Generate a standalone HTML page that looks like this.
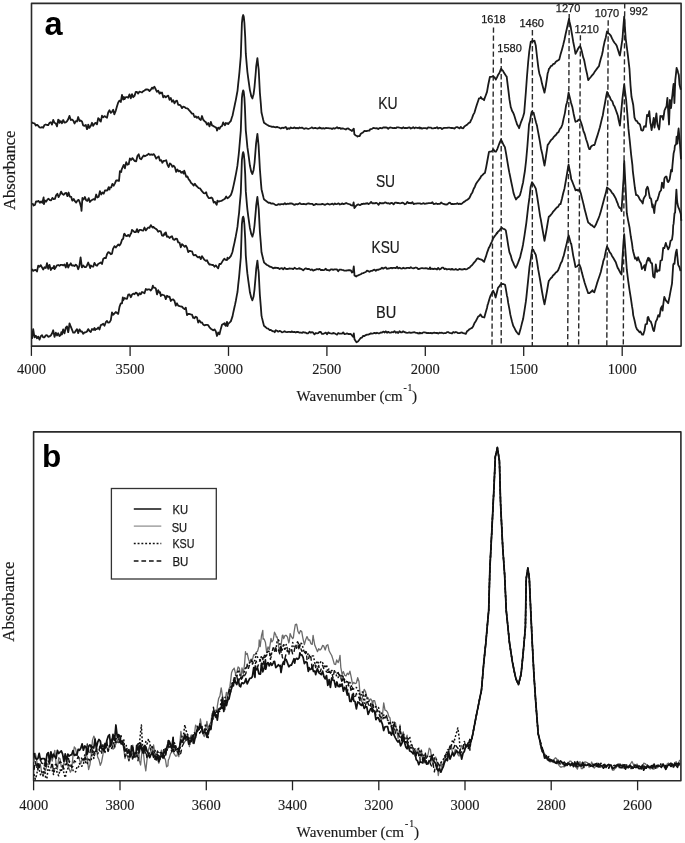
<!DOCTYPE html>
<html><head><meta charset="utf-8"><style>
html,body{margin:0;padding:0;background:#fff;}
svg{display:block;filter:grayscale(1) blur(0.35px);}
text{-webkit-font-smoothing:antialiased;}
</style></head><body>
<svg width="685" height="843" viewBox="0 0 685 843">
<rect width="685" height="843" fill="#fff"/>
<!-- Panel A frame -->
<path d="M31.5 3.35 H681.1 V346.1 H31.5 Z" fill="none" stroke="#2a2a2a" stroke-width="1.6" stroke-linejoin="round"/>
<g stroke="#222" stroke-width="1.3">
<line x1="31.4" y1="346" x2="31.4" y2="355.9"/>
<line x1="130.1" y1="346" x2="130.1" y2="355.9"/>
<line x1="228.5" y1="346" x2="228.5" y2="355.9"/>
<line x1="326.9" y1="346" x2="326.9" y2="355.9"/>
<line x1="425.3" y1="346" x2="425.3" y2="355.9"/>
<line x1="523.7" y1="346" x2="523.7" y2="355.9"/>
<line x1="622.2" y1="346" x2="622.2" y2="355.9"/>
</g>
<g font-family="Liberation Serif" font-size="15.5" fill="#1a1a1a" stroke="#1a1a1a" stroke-width="0.15" text-anchor="middle">
<text x="31.6" y="373.8" textLength="29" lengthAdjust="spacingAndGlyphs">4000</text>
<text x="130" y="373.8" textLength="29" lengthAdjust="spacingAndGlyphs">3500</text>
<text x="228.4" y="373.8" textLength="29" lengthAdjust="spacingAndGlyphs">3000</text>
<text x="326.8" y="373.8" textLength="29" lengthAdjust="spacingAndGlyphs">2500</text>
<text x="425.2" y="373.8" textLength="29" lengthAdjust="spacingAndGlyphs">2000</text>
<text x="523.6" y="373.8" textLength="29" lengthAdjust="spacingAndGlyphs">1500</text>
<text x="622.2" y="373.8" textLength="29" lengthAdjust="spacingAndGlyphs">1000</text>
</g>
<g font-family="Liberation Serif" fill="#1a1a1a" stroke="#1a1a1a" stroke-width="0.15">
<text x="296.6" y="401.3" font-size="15.3" textLength="106" lengthAdjust="spacingAndGlyphs">Wavenumber (cm</text>
<text x="403.4" y="391.3" font-size="9.8">-</text><text x="407.4" y="391.3" font-size="9.8">1</text>
<text x="412.1" y="401.3" font-size="15.3">)</text>
</g>
<text transform="translate(14.8,210) rotate(-90)" font-family="Liberation Serif" font-size="17" fill="#1a1a1a" stroke="#1a1a1a" stroke-width="0.2" textLength="79.5" lengthAdjust="spacingAndGlyphs">Absorbance</text>
<text x="44.6" y="35" font-family="Liberation Sans" font-weight="bold" font-size="32.5" fill="#000">a</text>
<!-- dashed lines -->
<g stroke="#2a2a2a" stroke-width="1.4" stroke-dasharray="5.4 2.6">
<line x1="493.5" y1="27.4" x2="492.0" y2="346"/>
<line x1="501.2" y1="58.1" x2="501.2" y2="346"/>
<line x1="532.4" y1="30.1" x2="532.3" y2="346"/>
<line x1="569.2" y1="13.9" x2="567.7" y2="346"/>
<line x1="580.4" y1="35.2" x2="578.6" y2="346"/>
<line x1="608.2" y1="20.3" x2="606.8" y2="346"/>
<line x1="624.7" y1="3.2" x2="623.3" y2="346"/>
</g>
<g font-family="Liberation Sans" font-size="11" fill="#1a1a1a" stroke="#1a1a1a" stroke-width="0.25">
<text x="481.2" y="22.9">1618</text>
<text x="497.3" y="51.8">1580</text>
<text x="519.5" y="27.1">1460</text>
<text x="555.8" y="12.2">1270</text>
<text x="574.4" y="33.1">1210</text>
<text x="594.7" y="17.1">1070</text>
<text x="629.5" y="14.9">992</text>
</g>
<g font-family="Liberation Sans" font-size="17.3" fill="#1a1a1a" stroke="#1a1a1a" stroke-width="0.2">
<text x="378.3" y="108.6" textLength="19.4" lengthAdjust="spacingAndGlyphs">KU</text>
<text x="375.9" y="187.2" textLength="19.2" lengthAdjust="spacingAndGlyphs">SU</text>
<text x="371.5" y="252.7" textLength="28.2" lengthAdjust="spacingAndGlyphs">KSU</text>
<text x="375.9" y="317.8" textLength="20.3" lengthAdjust="spacingAndGlyphs">BU</text>
</g>
<g fill="none" stroke="#1a1a1a" stroke-width="1.8" stroke-linejoin="round">
<path d="M32.0 122.3 L33.2 123.2 L34.5 123.3 L35.8 125.6 L37.0 124.8 L38.2 125.8 L39.5 127.4 L40.8 127.6 L42.0 127.1 L43.2 127.7 L44.5 125.0 L45.8 124.5 L47.0 125.0 L48.2 125.2 L49.5 122.9 L50.8 122.2 L52.0 124.6 L53.2 119.9 L54.5 122.8 L55.8 123.6 L57.0 126.4 L58.2 119.7 L59.0 120.2 L59.5 122.9 L60.8 121.1 L62.0 123.3 L63.2 120.0 L64.5 122.6 L65.8 122.3 L67.0 121.3 L68.2 119.3 L69.5 115.9 L70.8 120.0 L72.0 119.6 L73.2 120.4 L74.5 123.5 L75.8 121.1 L77.0 121.5 L78.2 117.0 L79.5 121.0 L80.6 120.4 L82.0 121.4 L83.2 125.4 L84.5 125.9 L85.8 124.9 L87.0 129.2 L87.8 127.9 L88.2 124.6 L89.5 127.9 L90.8 125.8 L92.0 122.8 L93.2 125.9 L94.5 123.6 L95.8 122.9 L97.0 124.3 L98.2 118.1 L99.5 119.3 L99.9 120.9 L100.8 121.6 L102.0 115.7 L103.2 117.2 L104.5 116.1 L105.8 117.0 L107.0 117.7 L108.2 112.5 L109.5 110.3 L110.8 112.9 L112.0 111.8 L113.2 109.8 L114.3 114.3 L115.8 110.6 L117.0 106.3 L118.2 102.5 L119.5 100.6 L120.8 102.0 L122.0 94.9 L123.2 99.6 L124.0 97.0 L124.5 99.2 L125.8 97.1 L127.0 97.2 L128.2 97.7 L129.5 94.4 L130.8 98.3 L132.0 94.2 L133.2 97.2 L134.5 95.9 L135.8 91.9 L137.0 92.0 L138.2 93.6 L139.5 91.6 L140.8 92.0 L142.0 92.5 L143.2 91.2 L144.5 90.4 L145.8 89.5 L147.0 89.5 L148.2 89.7 L149.5 91.0 L150.8 89.7 L152.0 87.6 L152.9 88.7 L153.2 87.9 L154.5 86.8 L155.8 89.5 L157.0 91.8 L158.2 90.7 L159.5 93.6 L160.1 92.4 L160.8 93.2 L162.0 92.4 L163.2 97.3 L164.5 95.9 L165.8 97.4 L167.0 96.2 L168.2 95.6 L169.5 99.8 L170.8 98.0 L172.0 101.8 L173.2 100.2 L174.5 103.3 L175.8 101.1 L177.0 100.7 L178.2 104.8 L179.5 104.8 L180.8 105.8 L182.0 108.1 L183.2 106.6 L184.5 107.0 L185.8 108.1 L187.0 108.3 L188.2 109.1 L189.5 110.7 L190.8 112.1 L192.0 113.7 L193.2 113.6 L193.9 115.5 L194.5 117.0 L195.8 116.4 L197.0 117.9 L198.2 116.8 L199.5 119.1 L200.8 120.0 L202.0 116.0 L203.2 119.7 L204.5 121.2 L205.8 122.1 L207.0 124.6 L208.2 123.0 L209.5 126.4 L210.8 121.9 L212.0 125.4 L213.2 125.9 L214.5 126.8 L215.8 127.4 L216.7 128.6 L217.0 130.6 L218.2 127.7 L219.5 128.8 L220.8 126.5 L222.0 126.1 L223.2 122.3 L224.5 124.9 L225.0 125.3 L225.8 123.0 L227.0 123.6 L227.5 123.3 L228.2 124.1 L229.5 122.3 L230.8 121.0 L232.0 117.0 L232.5 115.7 L233.2 112.4 L234.5 106.3 L235.0 103.8 L235.8 100.1 L237.0 93.5 L237.5 90.8 L238.2 83.8 L239.1 75.7 L239.5 71.5 L240.8 56.2 L241.9 23.1 L242.6 16.9 L243.2 15.0 L243.8 16.8 L244.4 22.9 L245.2 37.1 L245.8 53.7 L247.0 67.5 L247.4 72.0 L248.2 78.2 L249.5 87.3 L249.9 90.1 L250.8 93.9 L251.2 96.0 L252.0 97.5 L252.4 98.5 L253.2 95.4 L253.6 94.2 L254.5 87.1 L255.8 72.0 L256.2 66.3 L257.0 60.9 L257.4 58.2 L258.2 65.6 L258.7 69.7 L259.5 85.3 L259.9 92.8 L260.8 103.4 L261.5 112.7 L262.0 114.6 L263.2 119.7 L264.0 122.7 L264.5 123.1 L265.8 124.0 L267.0 124.8 L268.2 125.4 L269.5 126.2 L270.8 126.3 L272.0 126.8 L273.2 126.7 L274.5 127.1 L274.8 127.1 L275.8 127.4 L277.0 126.9 L278.2 127.4 L279.3 127.7 L280.8 128.5 L282.0 127.7 L283.2 128.0 L284.5 127.7 L285.8 126.9 L287.0 129.2 L288.2 128.2 L289.5 128.8 L290.8 127.4 L292.0 128.2 L293.2 128.1 L294.5 127.4 L295.8 128.3 L297.0 127.9 L298.2 128.4 L299.5 127.5 L300.0 127.9 L300.8 127.9 L302.0 127.6 L303.2 128.3 L304.5 128.8 L305.8 128.2 L307.0 128.5 L308.2 128.9 L309.5 128.5 L310.8 128.0 L312.0 127.3 L313.2 128.4 L314.5 128.0 L315.8 128.0 L317.0 128.5 L318.2 128.4 L319.5 127.4 L320.0 128.3 L320.8 128.0 L322.0 128.6 L323.2 128.2 L324.5 128.7 L325.8 128.0 L327.0 128.2 L328.2 128.1 L329.5 128.3 L330.8 128.3 L332.0 129.0 L333.2 128.1 L334.5 128.6 L335.8 128.1 L337.0 127.2 L338.2 128.4 L339.5 127.8 L340.8 128.8 L342.0 128.4 L343.2 128.5 L344.5 129.0 L345.8 129.5 L346.8 128.6 L348.2 128.4 L349.5 129.5 L350.8 130.1 L352.0 131.0 L353.2 129.4 L353.8 128.6 L354.4 134.4 L355.8 135.5 L357.0 136.0 L357.5 136.6 L358.2 136.1 L359.5 136.2 L360.8 133.8 L362.0 133.0 L363.0 132.4 L364.5 130.8 L365.8 131.2 L367.0 131.0 L368.2 130.6 L369.5 130.6 L370.0 129.4 L370.8 129.2 L372.0 128.9 L373.2 128.0 L374.5 128.1 L375.8 128.4 L377.0 128.2 L378.2 129.0 L379.3 128.2 L380.8 128.0 L382.0 128.4 L383.2 127.4 L384.5 127.5 L385.8 127.4 L387.0 127.7 L388.2 128.7 L389.5 127.6 L390.8 127.5 L392.0 127.8 L393.2 128.2 L394.5 128.0 L395.8 128.2 L397.0 127.3 L398.2 127.4 L399.5 127.7 L400.8 127.9 L402.0 128.4 L403.2 127.3 L404.5 128.2 L405.8 127.8 L407.0 128.2 L408.2 127.6 L409.5 127.3 L410.8 128.5 L412.0 128.1 L413.2 127.1 L414.5 128.3 L415.8 127.5 L417.0 127.9 L418.2 128.0 L419.5 127.4 L420.0 128.5 L420.8 127.8 L422.0 128.7 L423.2 128.2 L424.5 128.2 L425.8 128.1 L427.0 128.8 L428.2 127.3 L429.5 127.6 L430.8 127.6 L432.0 128.4 L433.2 128.4 L434.5 128.0 L435.8 128.0 L437.0 127.2 L438.2 128.6 L439.5 127.8 L440.8 127.9 L442.0 129.1 L443.2 128.2 L444.5 127.8 L445.8 127.9 L447.0 127.9 L448.2 127.6 L449.5 127.6 L450.8 128.0 L452.0 128.0 L453.2 128.2 L454.5 128.5 L455.8 127.3 L457.0 127.0 L458.2 127.6 L459.5 128.4 L460.0 127.8 L460.8 126.9 L462.0 128.2 L463.2 128.3 L464.4 126.4 L465.8 125.5 L467.0 124.8 L468.2 123.5 L469.5 122.6 L470.2 122.2 L470.8 120.7 L472.0 118.3 L473.2 114.9 L474.5 112.6 L475.8 108.1 L477.0 104.2 L478.2 100.7 L479.0 98.3 L479.5 98.4 L480.4 98.2 L480.8 97.0 L482.0 98.8 L483.2 99.2 L484.1 100.2 L484.5 98.6 L485.8 95.2 L487.0 91.9 L488.2 85.0 L489.5 78.7 L489.9 77.0 L490.8 76.8 L492.0 76.6 L493.2 76.1 L493.6 76.6 L494.5 77.3 L495.8 79.6 L497.0 77.4 L498.2 74.7 L499.5 72.8 L500.8 69.2 L501.2 68.8 L502.0 69.9 L503.2 71.1 L503.8 72.5 L504.5 73.6 L505.8 75.6 L506.7 76.6 L507.0 79.3 L508.2 88.9 L509.5 99.7 L510.8 107.4 L511.1 107.9 L512.0 110.7 L513.2 112.8 L514.0 114.7 L514.5 116.2 L515.8 120.6 L516.2 121.5 L517.0 124.2 L518.2 126.2 L519.1 128.2 L519.5 126.8 L520.8 122.7 L522.0 119.7 L523.2 116.2 L524.2 112.7 L525.8 92.8 L527.0 76.3 L528.2 61.8 L529.3 51.2 L530.8 41.6 L532.0 41.6 L532.5 40.2 L533.2 41.3 L534.5 40.8 L535.8 45.8 L537.0 56.5 L538.2 66.6 L538.8 70.6 L539.5 74.0 L540.8 77.8 L542.0 83.6 L543.2 88.1 L544.5 92.7 L545.8 85.8 L547.0 78.0 L547.6 73.6 L548.2 71.7 L549.0 68.8 L549.5 68.4 L550.8 66.2 L552.0 65.7 L553.2 63.9 L554.5 63.9 L555.8 61.7 L557.0 60.9 L558.2 60.2 L559.3 59.4 L560.5 54.6 L562.0 49.4 L563.2 44.9 L564.5 39.5 L565.8 33.3 L567.0 28.0 L568.0 23.5 L569.0 18.9 L569.5 21.7 L570.8 27.3 L571.2 29.8 L572.0 34.3 L573.2 41.7 L574.5 48.1 L575.5 53.8 L577.0 51.0 L578.2 48.5 L579.5 46.5 L580.1 46.2 L580.8 47.7 L582.0 52.1 L583.2 57.4 L584.0 59.5 L584.5 61.8 L585.8 68.6 L587.0 73.7 L588.2 80.1 L589.5 78.5 L590.8 77.0 L592.0 75.4 L592.5 75.0 L593.2 74.2 L594.5 72.1 L595.8 70.2 L597.0 68.6 L598.2 67.0 L598.9 66.4 L599.5 63.7 L600.8 58.8 L602.0 54.8 L602.8 51.0 L603.2 48.3 L604.5 42.1 L605.8 37.4 L607.0 31.4 L608.2 33.3 L609.2 33.8 L610.8 35.6 L612.0 38.4 L613.2 40.7 L614.5 42.7 L615.8 44.3 L616.7 45.7 L618.2 50.6 L619.5 54.8 L619.9 55.5 L620.8 49.8 L622.0 41.8 L622.5 38.5 L623.2 28.6 L624.2 16.7 L625.7 38.6 L627.0 48.5 L627.9 55.4 L628.2 58.2 L629.5 69.2 L630.5 85.3 L631.5 96.8 L632.0 99.0 L633.2 104.7 L634.5 117.6 L635.8 120.6 L637.0 121.0 L637.5 122.0 L638.2 123.2 L639.5 123.9 L640.0 124.6 L640.8 127.9 L641.2 130.0 L642.0 130.4 L642.5 130.7 L643.2 130.0 L644.1 126.3 L644.5 126.2 L645.8 126.8 L647.0 115.0 L648.2 116.1 L649.3 111.1 L650.3 122.8 L650.8 124.7 L651.6 130.0 L652.0 127.6 L653.2 120.8 L653.7 117.8 L654.5 127.6 L655.8 117.9 L656.4 113.4 L657.0 120.0 L657.4 124.1 L658.2 126.9 L659.1 129.5 L659.5 126.4 L660.3 116.0 L660.8 116.8 L662.0 115.9 L663.2 119.6 L664.5 110.5 L665.8 107.6 L666.5 106.5 L667.0 101.3 L667.4 97.8 L668.2 111.5 L669.0 124.5 L669.5 111.6 L669.9 100.0 L670.8 105.4 L671.1 108.0 L672.0 98.0 L672.4 94.9 L673.2 86.8 L673.6 83.8 L674.4 103.0 L675.3 79.8 L675.8 75.7 L676.6 67.8 L677.0 69.3 L677.5 70.2 L678.2 72.9 L678.8 74.9 L679.5 84.5 L680.8 89.7"/>
<path d="M32.4 203.1 L33.6 205.5 L34.9 205.0 L36.1 201.3 L37.4 201.5 L38.6 200.9 L39.9 202.8 L41.1 201.4 L42.4 202.8 L43.6 197.4 L44.0 204.1 L44.9 200.5 L46.1 201.7 L47.4 199.6 L48.6 198.8 L49.9 200.1 L51.1 200.4 L52.4 197.9 L53.6 199.1 L54.9 198.9 L56.1 195.4 L57.4 193.7 L58.6 197.1 L59.9 194.6 L61.1 191.7 L62.4 194.0 L63.6 194.8 L64.9 193.4 L66.2 192.9 L67.4 196.1 L68.6 192.5 L69.7 196.5 L71.2 196.8 L72.0 199.8 L72.4 200.6 L73.7 199.0 L74.9 201.2 L76.2 202.6 L77.4 200.6 L78.7 199.9 L79.9 202.7 L81.2 207.6 L81.5 210.9 L82.4 198.0 L83.0 199.7 L83.7 199.2 L84.9 197.0 L86.2 200.4 L87.4 200.9 L88.7 198.1 L89.9 202.0 L91.2 200.5 L92.4 199.8 L93.7 199.1 L94.9 199.8 L96.2 194.5 L97.4 197.5 L98.7 196.7 L99.9 191.1 L101.2 194.5 L102.4 192.5 L103.7 193.7 L104.9 190.5 L106.2 190.5 L107.4 190.4 L108.7 187.1 L109.5 189.5 L109.9 187.6 L111.2 187.4 L112.4 183.9 L113.7 185.7 L114.9 183.3 L116.2 180.3 L117.4 180.5 L118.7 180.3 L119.0 181.0 L119.9 171.2 L121.2 172.0 L121.6 169.6 L122.4 167.8 L123.7 164.9 L124.9 168.3 L126.2 162.1 L127.4 164.7 L128.7 164.2 L129.9 158.5 L131.2 159.9 L132.4 158.1 L133.7 159.8 L134.9 161.0 L136.2 161.3 L137.4 156.0 L138.7 154.3 L139.9 158.4 L141.2 159.2 L142.4 157.3 L143.7 155.4 L144.9 156.3 L146.2 155.5 L147.4 154.9 L148.7 153.8 L149.9 154.9 L150.5 154.6 L151.2 154.4 L152.4 154.9 L153.7 154.1 L154.9 155.8 L156.2 158.6 L157.4 157.4 L158.7 156.4 L159.9 160.6 L161.2 160.2 L162.4 162.8 L163.7 160.8 L164.9 160.8 L166.2 160.2 L167.4 164.6 L168.7 167.0 L169.9 163.4 L171.2 164.4 L172.4 166.8 L173.7 165.8 L174.9 167.3 L176.2 171.9 L177.4 169.5 L178.7 171.4 L179.9 170.8 L181.2 172.8 L182.4 171.8 L183.7 173.6 L184.2 170.7 L184.9 172.4 L186.2 176.8 L187.4 176.4 L188.7 179.3 L189.9 180.7 L191.2 183.1 L192.4 183.9 L193.7 185.6 L194.9 183.7 L196.2 185.8 L197.4 186.8 L198.7 188.1 L199.9 188.3 L201.2 190.1 L202.4 191.7 L203.7 193.1 L204.9 193.4 L206.2 192.3 L207.0 195.4 L207.4 196.1 L208.7 198.0 L209.9 198.2 L211.2 197.4 L212.4 198.2 L213.7 202.6 L214.9 201.8 L216.2 204.0 L216.7 204.8 L217.4 200.6 L218.7 201.7 L219.9 201.2 L221.2 200.8 L222.4 200.3 L223.7 199.5 L224.9 198.7 L226.2 196.5 L227.4 198.3 L228.7 197.4 L229.9 196.1 L230.8 195.1 L231.2 194.2 L232.4 190.6 L233.7 184.9 L234.9 179.2 L236.2 172.6 L237.4 165.9 L238.7 154.7 L239.1 150.5 L239.9 141.2 L240.8 130.6 L241.9 98.1 L242.4 93.6 L243.2 90.3 L243.7 91.5 L244.4 97.9 L244.9 107.0 L245.8 130.6 L246.2 134.4 L247.4 147.2 L248.7 156.3 L249.9 165.5 L251.2 171.5 L252.4 174.0 L253.6 169.9 L254.6 162.5 L254.9 158.5 L256.1 143.4 L257.4 133.8 L258.6 145.6 L259.9 169.2 L261.1 184.6 L261.5 189.2 L262.4 193.0 L263.6 197.9 L264.0 199.3 L264.9 200.1 L266.1 200.9 L267.4 202.0 L268.2 202.5 L268.6 202.9 L269.9 202.6 L271.1 203.7 L272.4 203.5 L273.6 203.6 L274.8 204.5 L276.1 205.1 L277.4 204.8 L278.6 204.1 L279.9 204.6 L281.1 204.1 L282.4 204.2 L283.6 204.3 L284.9 203.2 L286.1 204.3 L287.4 203.7 L288.6 203.8 L289.9 203.5 L291.1 203.4 L292.4 203.7 L293.6 204.5 L294.9 204.8 L296.1 204.0 L297.4 204.4 L298.6 203.9 L299.9 203.1 L301.1 204.1 L302.4 204.2 L303.6 203.8 L304.9 204.1 L306.1 204.4 L307.4 203.6 L308.6 203.3 L309.9 203.9 L311.1 203.9 L312.4 203.8 L313.6 205.1 L314.9 204.7 L316.1 203.8 L317.4 204.3 L318.6 204.4 L319.9 204.3 L321.1 204.4 L322.4 203.8 L323.6 204.3 L324.9 204.9 L326.1 204.3 L327.4 203.7 L328.6 204.2 L329.9 204.5 L331.1 204.1 L332.4 203.7 L333.6 204.6 L334.9 203.4 L336.1 204.2 L337.4 203.9 L338.6 203.4 L339.9 204.5 L341.1 204.1 L342.4 203.4 L343.6 204.2 L344.9 203.7 L346.1 203.0 L347.4 203.6 L348.6 204.0 L349.2 204.2 L349.9 204.3 L351.1 205.2 L352.4 205.5 L353.0 205.4 L353.6 202.4 L354.4 208.1 L354.9 207.4 L356.0 205.9 L357.4 204.7 L358.6 204.5 L359.9 205.2 L361.1 204.4 L362.0 203.9 L362.4 204.1 L363.6 203.6 L364.9 203.8 L366.1 203.3 L367.0 203.6 L367.4 203.1 L368.6 204.1 L369.9 203.2 L371.1 202.0 L372.4 203.3 L373.6 203.2 L374.9 203.4 L376.1 202.8 L377.4 203.5 L378.6 204.8 L379.9 202.7 L381.1 203.4 L382.4 203.1 L383.6 203.3 L384.9 202.4 L386.1 202.7 L387.4 203.4 L388.6 203.2 L389.9 203.9 L391.1 202.8 L392.4 203.2 L393.6 204.4 L394.9 202.7 L396.1 202.7 L397.4 203.0 L398.6 203.0 L399.9 203.4 L401.1 203.1 L402.4 202.7 L403.6 203.1 L404.9 204.3 L406.1 203.7 L407.4 201.9 L408.6 203.1 L409.9 202.8 L411.1 203.4 L412.4 202.2 L413.6 204.1 L414.9 203.6 L416.1 203.6 L417.4 203.3 L418.6 203.3 L419.9 203.4 L421.1 203.9 L422.4 203.7 L423.6 203.2 L424.9 203.9 L426.1 203.5 L427.4 203.4 L428.6 203.1 L429.9 203.2 L431.1 203.2 L432.4 202.2 L433.6 204.0 L434.9 203.8 L436.1 203.4 L437.4 204.0 L438.6 203.8 L439.9 203.8 L441.1 202.5 L442.4 203.5 L443.6 203.9 L444.9 204.4 L446.1 204.5 L447.4 204.3 L448.6 203.2 L449.9 202.7 L451.1 204.0 L452.4 203.8 L453.6 204.2 L454.9 203.8 L456.1 203.9 L457.4 203.2 L458.6 204.1 L459.9 203.7 L461.1 204.1 L462.4 203.2 L463.6 202.1 L464.9 201.4 L466.1 200.4 L467.4 199.7 L468.6 198.8 L469.6 197.7 L471.1 194.3 L472.4 192.4 L473.6 189.0 L474.9 186.7 L475.7 184.7 L476.1 183.7 L477.4 181.8 L478.6 180.2 L479.9 178.4 L480.5 177.6 L481.1 176.2 L482.4 175.1 L483.6 173.8 L484.9 173.0 L485.3 171.2 L486.1 167.6 L487.4 160.5 L488.6 154.0 L489.0 151.8 L489.9 151.7 L491.1 151.6 L492.4 150.6 L493.5 149.5 L494.9 151.6 L496.0 151.7 L497.4 148.8 L498.6 145.5 L499.9 142.2 L501.0 139.8 L502.4 142.3 L503.6 145.0 L504.9 147.1 L506.1 153.7 L507.4 161.6 L508.6 168.6 L509.3 172.4 L509.9 175.2 L511.1 181.2 L512.4 187.4 L513.5 192.9 L514.9 197.0 L516.0 199.5 L517.4 197.6 L518.6 196.9 L519.9 195.2 L521.1 190.9 L522.4 185.3 L523.1 182.4 L523.6 178.9 L524.9 171.0 L526.1 160.5 L527.4 146.0 L528.6 130.3 L529.0 124.5 L529.9 121.3 L531.1 114.4 L531.7 111.8 L532.4 112.3 L533.6 112.6 L534.9 118.1 L536.1 122.8 L537.0 125.7 L537.4 128.1 L538.6 134.5 L539.9 141.7 L541.1 149.0 L542.4 154.4 L543.6 161.1 L544.5 165.6 L544.9 163.3 L546.1 155.5 L547.4 146.9 L547.7 144.9 L548.6 143.9 L549.9 141.8 L551.1 140.0 L552.0 139.2 L552.4 139.0 L553.6 137.2 L554.9 135.8 L556.1 134.8 L557.4 132.7 L558.4 132.4 L559.9 129.0 L561.1 127.6 L562.4 124.5 L563.6 118.6 L564.9 113.1 L566.1 105.3 L566.9 102.7 L567.4 100.4 L568.6 92.6 L569.9 97.9 L571.1 103.0 L572.4 107.3 L573.6 113.7 L574.9 119.5 L575.5 121.8 L576.1 121.4 L577.4 121.1 L578.6 119.7 L579.9 119.7 L581.1 122.5 L582.4 126.7 L583.6 131.6 L584.0 132.1 L584.9 134.6 L586.1 139.3 L587.4 143.0 L588.6 147.5 L589.3 149.1 L589.9 149.1 L591.1 146.5 L592.4 145.5 L593.6 145.0 L594.3 145.1 L594.9 143.8 L596.1 139.6 L597.4 135.6 L598.5 132.0 L599.9 127.2 L601.1 122.1 L602.4 116.8 L602.8 115.4 L603.6 110.3 L604.9 103.5 L606.1 96.7 L607.1 91.9 L608.6 95.0 L609.9 97.1 L610.3 98.5 L611.1 100.2 L612.4 101.4 L613.6 105.2 L614.6 106.6 L616.1 110.8 L617.4 114.4 L617.8 115.3 L618.6 119.9 L619.9 125.6 L621.1 113.0 L622.4 98.8 L623.6 89.1 L624.2 84.5 L624.9 90.3 L626.1 99.6 L627.4 114.9 L628.4 128.4 L629.9 142.1 L630.6 149.1 L631.1 154.3 L632.4 165.1 L632.8 170.8 L633.6 177.3 L634.9 188.0 L636.1 195.0 L637.4 195.2 L638.1 196.1 L638.6 196.8 L639.9 199.6 L641.1 200.9 L642.4 202.6 L642.7 203.5 L643.6 198.7 L644.9 196.4 L645.8 195.1 L646.1 189.6 L647.4 186.8 L648.1 188.1 L648.6 191.3 L649.9 198.0 L650.4 197.9 L651.1 199.0 L652.4 207.4 L652.7 204.5 L653.6 208.7 L654.3 213.0 L654.9 206.2 L656.1 200.9 L656.6 200.9 L657.4 200.1 L658.6 196.1 L659.7 192.0 L661.1 190.2 L662.0 182.7 L662.4 183.7 L663.6 187.9 L664.3 179.1 L664.9 177.4 L666.1 176.5 L666.6 176.8 L667.4 181.1 L668.2 182.1 L668.6 181.7 L669.7 179.2 L671.1 170.0 L672.0 171.4 L672.4 166.0 L673.6 153.4 L674.5 149.7 L674.9 145.7 L676.1 144.1 L676.6 136.6 L677.4 143.7 L678.1 132.8 L678.6 128.5 L679.8 141.8 L681.0 159.2"/>
<path d="M32.0 269.0 L33.2 270.9 L34.5 270.1 L35.8 269.9 L37.0 271.6 L38.2 265.7 L39.5 266.7 L40.8 265.2 L42.0 267.4 L43.2 269.5 L44.5 267.3 L45.8 268.1 L47.0 263.1 L48.2 268.8 L49.5 264.8 L50.8 270.0 L52.0 268.0 L53.2 268.0 L54.0 265.9 L54.5 269.1 L55.8 267.3 L57.0 265.3 L58.2 265.0 L59.5 265.8 L60.8 264.8 L62.0 264.8 L63.2 265.4 L64.5 264.5 L65.8 267.5 L67.0 262.8 L68.2 267.6 L69.5 264.7 L70.0 264.9 L70.8 263.3 L72.0 265.6 L73.2 265.3 L74.5 266.1 L75.8 264.6 L77.0 265.8 L78.2 269.2 L79.3 266.3 L80.6 257.4 L81.9 267.4 L83.2 265.4 L84.5 267.0 L85.8 267.2 L87.0 265.4 L88.2 262.5 L89.5 265.8 L90.2 268.1 L90.8 265.5 L92.0 266.4 L93.2 266.7 L94.5 262.9 L95.8 265.1 L97.0 265.7 L98.2 263.9 L99.5 263.3 L100.8 262.4 L102.0 264.0 L103.2 259.0 L104.5 257.8 L105.8 258.2 L107.0 254.3 L108.2 252.1 L109.5 252.6 L110.8 254.3 L112.0 253.6 L113.0 248.9 L114.5 246.1 L115.8 247.5 L117.0 246.0 L118.2 244.5 L119.5 245.5 L120.8 243.5 L122.0 239.7 L123.2 238.7 L124.0 234.2 L124.5 233.8 L125.8 235.9 L127.0 236.0 L128.2 234.9 L129.5 236.5 L130.8 233.6 L131.2 233.4 L132.0 229.8 L133.2 230.9 L134.5 232.2 L135.8 232.1 L137.0 229.1 L138.2 232.3 L139.5 229.9 L140.8 229.9 L142.0 230.3 L143.2 230.6 L144.5 227.5 L145.8 230.4 L147.0 228.9 L148.2 227.5 L149.5 227.9 L150.8 225.1 L152.0 226.9 L152.9 227.7 L153.2 226.8 L154.5 227.9 L155.8 228.8 L157.0 229.8 L158.2 231.7 L159.5 231.0 L160.8 231.4 L162.0 235.5 L163.2 235.8 L164.5 233.3 L165.0 234.7 L165.8 232.3 L167.0 236.8 L168.2 236.5 L169.5 238.0 L170.8 236.9 L172.0 236.2 L173.2 239.4 L174.5 239.8 L175.8 238.7 L177.0 238.9 L178.2 242.4 L179.5 242.6 L180.8 247.3 L182.0 244.1 L183.2 245.2 L184.5 246.8 L185.8 245.7 L187.0 247.8 L188.2 252.1 L189.5 250.8 L190.8 251.2 L192.0 251.3 L193.2 254.7 L193.9 255.4 L194.5 255.2 L195.8 255.0 L197.0 256.6 L198.2 257.4 L199.5 256.7 L200.8 259.1 L202.0 256.2 L203.2 258.0 L204.5 259.9 L205.8 260.9 L207.0 260.2 L208.2 262.9 L209.5 264.6 L210.8 264.5 L212.0 265.0 L213.2 265.0 L214.5 266.7 L215.8 265.4 L217.0 267.0 L218.2 268.3 L219.5 263.8 L220.8 264.1 L222.0 262.1 L223.2 260.1 L224.5 258.6 L225.0 259.5 L225.8 259.9 L227.0 260.0 L227.5 257.7 L228.2 258.8 L229.5 257.7 L230.8 256.2 L232.0 253.1 L232.5 251.7 L233.2 248.3 L234.5 242.6 L235.0 240.0 L235.8 236.2 L237.0 229.6 L237.5 226.7 L238.2 219.9 L239.1 212.6 L239.5 207.4 L240.8 192.7 L241.9 159.8 L242.6 154.3 L243.2 152.1 L243.8 154.2 L244.4 160.0 L245.2 174.4 L245.8 191.4 L247.0 205.4 L247.4 209.5 L248.2 215.9 L249.5 225.2 L249.9 228.0 L250.8 231.9 L251.2 233.9 L252.0 235.5 L252.4 236.7 L253.2 233.7 L253.6 232.5 L254.5 225.5 L255.8 210.6 L256.2 205.4 L257.0 199.5 L257.4 197.0 L258.2 204.6 L258.7 208.8 L259.5 224.4 L259.9 231.9 L260.8 242.7 L261.5 252.2 L262.0 254.2 L263.2 259.3 L264.0 262.3 L264.5 262.9 L265.8 264.0 L267.0 265.0 L268.2 265.5 L269.5 266.5 L270.8 266.8 L272.0 267.3 L273.2 268.4 L274.5 267.6 L274.8 268.1 L275.8 267.7 L277.0 268.0 L278.2 267.9 L279.5 269.0 L280.8 268.4 L282.0 268.1 L283.2 269.3 L284.5 267.8 L285.8 268.9 L287.0 269.0 L288.2 268.8 L289.5 268.5 L290.8 268.6 L292.0 268.6 L293.2 269.1 L294.5 267.8 L295.8 268.6 L297.0 269.0 L298.2 268.7 L299.5 268.2 L300.0 268.9 L300.8 268.7 L302.0 269.4 L303.2 270.3 L304.5 269.1 L305.8 268.3 L307.0 269.1 L308.2 268.8 L309.5 269.2 L310.8 270.0 L312.0 269.4 L313.2 270.6 L314.5 270.0 L315.8 269.7 L317.0 269.0 L318.2 269.5 L319.5 268.9 L320.8 270.0 L322.0 269.9 L323.2 270.2 L324.5 269.8 L325.8 268.8 L327.0 270.0 L328.2 270.2 L329.5 270.5 L330.8 269.4 L332.0 269.4 L333.2 269.9 L334.5 269.4 L335.8 269.3 L337.0 269.5 L338.2 271.2 L339.5 269.7 L340.8 269.6 L342.0 269.9 L343.2 270.1 L344.5 270.7 L345.8 270.6 L347.0 270.5 L348.2 270.2 L349.2 270.3 L349.5 270.1 L350.8 270.3 L352.0 272.5 L353.0 271.8 L353.8 266.5 L354.5 275.4 L355.8 276.3 L356.5 276.5 L357.0 275.6 L358.2 275.4 L359.5 274.8 L360.8 274.2 L362.0 273.3 L363.2 273.1 L364.5 272.5 L365.8 272.0 L367.0 270.7 L368.2 271.1 L369.5 271.8 L370.8 270.9 L372.0 270.9 L373.2 270.2 L374.5 269.7 L375.8 270.7 L377.0 269.7 L378.2 269.9 L379.3 269.3 L380.8 268.8 L382.0 267.8 L383.2 268.7 L384.5 267.8 L385.8 267.4 L387.0 268.8 L388.2 268.5 L389.5 268.3 L390.8 267.9 L391.3 267.8 L392.0 268.3 L393.2 267.9 L394.5 267.9 L395.8 268.2 L397.0 266.8 L398.2 268.4 L399.5 267.7 L400.8 268.4 L402.0 268.6 L403.2 267.7 L404.5 268.4 L405.8 268.4 L407.0 267.8 L408.2 267.9 L409.5 268.2 L410.8 267.2 L412.0 268.0 L413.2 268.3 L414.5 268.0 L415.8 267.5 L417.0 267.9 L418.2 269.0 L419.5 268.9 L420.8 268.3 L422.0 268.0 L423.2 268.4 L424.5 268.4 L425.8 268.1 L427.0 268.3 L428.2 268.8 L429.5 268.9 L430.0 267.4 L430.8 269.0 L432.0 268.6 L433.2 269.1 L434.5 268.6 L435.8 268.9 L437.0 269.5 L438.2 267.9 L439.5 269.5 L440.8 268.9 L442.0 267.7 L443.2 267.7 L444.5 269.1 L445.8 268.6 L447.0 269.5 L448.2 269.2 L449.5 269.1 L450.8 269.6 L452.0 268.9 L453.2 269.6 L454.5 269.7 L455.8 269.0 L457.0 269.8 L458.2 269.8 L459.5 268.9 L460.8 269.4 L462.0 269.5 L463.2 269.4 L464.5 268.9 L465.8 269.4 L467.0 269.1 L468.2 268.2 L469.5 267.7 L470.8 266.1 L472.0 265.2 L473.2 263.7 L474.5 262.2 L475.8 260.6 L477.0 258.7 L478.0 258.2 L479.5 259.2 L480.5 259.4 L482.0 259.9 L483.2 261.1 L484.1 261.9 L484.5 260.5 L485.8 256.9 L487.0 252.9 L488.2 249.6 L488.9 247.6 L489.5 246.9 L490.8 243.8 L492.0 241.3 L493.2 238.2 L493.7 237.6 L494.5 236.4 L495.8 234.8 L497.0 232.7 L497.3 233.2 L498.2 231.4 L499.5 230.5 L500.8 228.6 L502.0 227.8 L503.2 228.9 L504.5 229.1 L505.8 230.3 L507.0 237.6 L508.2 245.3 L509.4 252.2 L510.8 255.6 L512.0 260.2 L513.2 262.6 L514.2 265.1 L515.7 267.8 L517.0 265.3 L518.2 262.4 L519.5 258.9 L520.2 257.1 L520.8 254.2 L522.0 249.6 L523.0 244.7 L524.5 235.4 L525.8 226.5 L526.3 223.1 L527.0 217.2 L528.2 206.6 L529.5 197.2 L530.6 187.0 L532.0 182.2 L533.2 183.9 L534.5 186.1 L535.8 188.7 L537.0 195.5 L538.2 203.3 L539.5 212.1 L540.2 216.6 L540.8 219.4 L542.0 226.5 L543.2 233.3 L544.5 240.8 L545.8 233.9 L547.0 227.0 L548.2 219.8 L548.8 216.6 L549.5 216.3 L550.8 214.8 L552.0 213.5 L553.2 211.6 L554.1 210.6 L554.5 210.3 L555.8 208.6 L557.0 207.4 L558.2 206.7 L559.5 204.1 L560.5 204.2 L562.0 198.5 L563.2 193.3 L564.5 188.4 L565.8 181.0 L567.0 173.9 L568.2 166.4 L568.6 164.6 L569.5 169.4 L570.8 176.1 L571.2 179.2 L572.0 180.9 L573.2 184.0 L574.5 187.3 L575.5 190.3 L577.0 189.7 L578.2 190.7 L579.5 189.5 L580.8 193.3 L582.0 198.1 L583.2 202.9 L584.0 206.2 L584.5 208.8 L585.8 213.6 L587.0 218.2 L588.2 222.6 L589.5 223.4 L590.8 224.9 L592.0 225.2 L592.5 226.0 L593.2 226.3 L594.3 227.4 L595.8 224.8 L597.0 221.9 L598.2 219.2 L599.5 215.7 L600.8 211.4 L602.0 207.1 L602.8 204.1 L603.2 202.6 L604.5 197.5 L605.8 193.1 L607.0 187.5 L608.2 188.4 L609.5 189.4 L610.3 190.2 L610.8 190.8 L612.0 192.9 L613.2 194.0 L614.5 196.2 L615.8 198.6 L617.0 202.0 L617.8 203.6 L618.2 205.3 L619.5 207.9 L620.8 208.4 L621.5 211.1 L622.0 203.3 L623.2 183.6 L623.6 178.8 L624.2 160.9 L625.8 191.5 L626.8 213.2 L628.2 220.8 L629.5 227.2 L630.8 236.5 L632.0 243.3 L632.7 248.9 L633.2 251.5 L634.5 256.5 L635.0 258.7 L635.8 257.6 L637.0 260.5 L638.1 257.2 L639.5 261.2 L640.8 263.2 L641.9 269.0 L643.2 267.5 L644.5 265.1 L645.0 270.3 L645.8 265.7 L647.0 260.8 L648.2 257.8 L648.9 260.6 L649.5 258.4 L650.8 262.8 L652.0 263.4 L653.2 276.5 L654.5 277.6 L655.8 264.5 L657.0 271.9 L658.1 270.3 L659.5 270.5 L660.5 260.8 L662.0 259.9 L663.2 247.9 L664.3 248.2 L665.8 242.9 L666.6 245.7 L667.0 246.2 L668.2 249.4 L669.5 246.6 L670.5 241.0 L672.0 239.6 L672.8 233.8 L673.2 225.5 L673.6 223.9 L674.5 213.3 L675.1 212.6 L675.8 199.6 L676.4 189.6 L677.0 199.5 L677.4 203.3 L678.2 206.9 L679.5 209.9 L680.8 214.1 L681.3 220.7"/>
<path d="M32.0 338.9 L33.2 329.2 L34.5 337.4 L35.8 335.7 L37.0 338.3 L38.2 336.6 L39.5 339.6 L40.8 336.1 L42.0 335.1 L43.2 337.4 L44.5 337.3 L45.8 335.3 L47.0 335.2 L48.2 336.8 L49.5 336.4 L50.8 335.5 L52.0 333.5 L53.2 330.3 L54.5 336.9 L55.8 332.7 L57.0 335.5 L58.2 333.3 L59.5 336.0 L60.8 334.8 L61.3 332.2 L62.0 334.4 L63.2 329.3 L64.5 333.4 L65.8 327.7 L67.0 326.4 L68.2 332.2 L68.6 330.4 L69.5 323.3 L70.8 326.7 L72.0 329.6 L73.2 332.7 L74.5 332.7 L75.8 330.7 L77.0 329.1 L78.2 333.2 L79.5 329.3 L80.8 331.5 L81.8 331.3 L83.2 333.8 L84.5 332.3 L85.8 332.3 L87.0 331.5 L88.2 329.1 L89.5 331.1 L90.8 332.0 L92.0 329.0 L93.2 329.9 L94.5 327.9 L95.0 330.1 L95.8 329.1 L97.0 329.0 L98.2 327.5 L99.5 329.6 L100.8 325.1 L102.0 324.7 L103.2 323.8 L104.5 325.7 L105.8 322.2 L107.0 321.0 L108.2 322.7 L109.5 322.4 L110.8 320.1 L112.0 312.5 L113.2 314.8 L114.5 313.4 L115.8 312.0 L116.7 312.8 L118.2 313.9 L119.5 306.9 L120.8 303.3 L122.0 303.4 L122.8 297.3 L123.2 300.3 L124.5 298.0 L125.8 298.6 L127.0 298.8 L128.2 294.7 L129.5 294.4 L130.8 297.2 L131.2 296.6 L132.0 294.6 L133.2 293.6 L134.5 294.3 L135.8 292.6 L137.0 293.3 L138.2 295.5 L139.5 293.2 L140.8 294.2 L142.0 292.0 L143.2 292.4 L144.5 293.2 L145.8 289.0 L147.0 289.8 L148.2 289.4 L149.5 289.4 L150.8 290.5 L152.0 288.8 L152.9 285.6 L153.2 287.4 L154.5 287.6 L155.8 288.5 L157.0 294.4 L158.2 290.2 L159.5 292.8 L160.1 292.1 L160.8 296.0 L162.0 294.6 L163.2 295.0 L164.5 295.5 L165.8 299.1 L167.0 295.8 L168.2 296.8 L169.5 296.6 L170.8 301.0 L172.0 299.6 L173.2 299.4 L174.5 300.9 L175.8 305.7 L177.0 303.3 L178.2 305.6 L179.5 306.1 L180.8 306.5 L182.0 306.6 L183.2 308.1 L184.5 309.1 L185.8 307.7 L187.0 315.0 L188.2 313.8 L189.5 314.0 L190.8 314.4 L192.0 314.6 L193.2 317.9 L193.9 317.4 L194.5 318.2 L195.8 316.6 L197.0 317.5 L198.2 322.6 L199.5 320.4 L200.8 322.6 L202.0 322.4 L203.2 324.6 L204.5 325.4 L205.8 324.9 L207.0 324.9 L208.2 325.2 L209.5 327.3 L210.8 328.7 L212.0 329.5 L213.2 330.3 L214.5 329.4 L215.8 331.2 L217.0 336.0 L217.9 333.9 L218.2 332.5 L219.5 334.2 L220.8 328.9 L222.0 324.8 L223.2 324.1 L224.5 323.1 L225.0 324.9 L225.8 325.8 L227.0 321.8 L227.5 326.1 L228.2 323.7 L229.5 322.6 L230.8 321.4 L232.0 317.9 L232.5 316.4 L233.2 312.9 L234.5 307.0 L235.0 304.9 L235.8 301.0 L237.0 294.4 L237.5 292.0 L238.2 284.8 L239.1 276.9 L239.5 272.4 L240.8 257.5 L241.9 224.1 L242.6 218.1 L243.2 216.6 L243.8 218.5 L244.4 224.5 L245.2 238.7 L245.8 255.6 L247.0 269.8 L247.4 273.7 L248.2 279.8 L249.5 289.1 L249.9 292.3 L250.8 295.7 L251.2 297.5 L252.0 299.3 L252.4 300.3 L253.2 297.8 L253.6 296.5 L254.5 289.6 L255.8 274.4 L256.2 269.0 L257.0 263.5 L257.4 260.6 L258.2 268.4 L258.7 272.4 L259.5 288.2 L259.9 295.4 L260.8 306.4 L261.5 315.6 L262.0 317.9 L263.2 322.8 L264.0 325.9 L264.5 326.3 L265.8 327.3 L267.0 328.4 L268.2 328.6 L269.5 330.0 L270.8 329.8 L272.0 330.9 L273.2 331.4 L274.5 331.5 L274.8 332.2 L275.8 330.2 L277.0 330.8 L278.2 331.7 L279.5 330.9 L280.8 331.4 L282.0 332.3 L283.2 332.0 L284.5 331.2 L285.8 331.9 L287.0 332.1 L288.2 331.9 L289.5 331.9 L290.8 332.1 L292.0 331.4 L293.2 332.2 L294.5 331.8 L295.8 332.5 L297.0 331.8 L298.2 332.0 L299.5 332.7 L300.0 332.7 L300.8 332.5 L302.0 332.9 L303.2 332.1 L304.5 332.5 L305.8 332.7 L307.0 333.4 L308.2 333.3 L309.5 331.7 L310.8 332.7 L312.0 332.2 L313.2 332.7 L314.5 334.4 L315.8 333.0 L317.0 333.4 L318.2 333.2 L319.5 331.8 L320.8 332.0 L322.0 333.9 L323.2 333.9 L324.5 333.3 L325.8 332.6 L327.0 334.3 L328.2 332.4 L329.5 333.1 L330.8 333.4 L332.0 333.6 L333.2 333.0 L334.5 333.3 L335.8 334.0 L337.0 334.6 L338.2 333.0 L339.5 333.7 L340.8 333.7 L342.0 333.7 L343.2 332.4 L344.5 334.1 L345.8 333.8 L347.0 333.4 L348.2 334.0 L349.2 333.9 L349.5 334.2 L350.8 334.0 L352.0 335.5 L353.0 336.7 L353.8 333.4 L354.5 339.2 L355.8 341.2 L356.5 342.3 L357.0 342.0 L358.2 341.2 L359.5 339.5 L360.8 337.9 L362.0 337.6 L363.2 335.8 L364.5 336.0 L365.8 335.1 L367.0 334.6 L368.2 334.6 L369.5 334.2 L370.8 333.3 L372.0 333.6 L373.2 333.3 L374.5 332.9 L375.8 333.4 L377.0 332.7 L378.2 333.3 L379.5 333.3 L380.8 332.5 L382.0 332.7 L383.2 331.6 L384.1 331.9 L384.5 332.5 L385.8 331.3 L387.0 332.8 L388.2 331.8 L389.5 332.7 L390.8 332.7 L392.0 332.0 L393.2 332.3 L394.5 331.1 L395.8 332.7 L397.0 331.9 L398.2 333.0 L399.5 331.3 L400.8 332.3 L402.0 332.3 L403.2 331.3 L404.5 332.2 L405.8 332.5 L407.0 332.9 L408.2 332.7 L409.5 332.4 L410.8 332.8 L412.0 332.6 L413.2 332.4 L414.5 332.2 L415.8 332.8 L417.0 332.8 L418.2 333.6 L419.5 332.6 L420.0 333.5 L420.8 333.0 L422.0 333.3 L423.2 332.4 L424.5 332.4 L425.8 332.7 L427.0 333.2 L428.2 332.9 L429.5 333.1 L430.8 332.9 L432.0 333.3 L433.2 332.9 L434.5 332.6 L435.8 333.0 L437.0 332.8 L438.2 333.6 L439.5 332.7 L440.8 332.8 L442.0 332.7 L443.2 333.3 L444.5 333.2 L445.8 333.1 L447.0 332.2 L448.2 332.1 L449.5 332.9 L450.8 333.1 L452.0 333.5 L453.2 332.0 L454.5 332.7 L455.8 332.0 L457.0 332.4 L458.2 333.2 L459.5 333.2 L460.8 332.6 L462.0 332.5 L463.2 333.1 L464.5 333.4 L465.8 333.9 L467.0 331.3 L468.2 330.5 L469.5 329.2 L470.8 328.5 L472.0 327.9 L473.2 326.2 L474.5 323.1 L475.8 321.2 L477.0 318.8 L478.0 316.8 L479.5 315.7 L480.5 314.4 L482.0 316.8 L483.2 317.2 L484.3 317.5 L485.8 312.0 L487.0 308.0 L487.6 304.8 L488.2 303.3 L489.5 298.8 L490.4 296.0 L490.8 295.3 L492.0 292.9 L493.2 290.8 L494.5 293.7 L495.6 297.5 L497.0 292.0 L498.0 287.9 L499.5 286.1 L500.8 284.2 L501.8 284.1 L503.2 284.0 L504.5 284.5 L505.1 285.0 L505.8 288.7 L507.0 295.9 L507.5 297.8 L508.2 302.9 L509.5 309.7 L510.3 314.4 L510.8 316.6 L512.0 321.5 L513.2 325.7 L514.5 328.1 L515.8 330.9 L517.0 332.5 L518.2 333.9 L518.9 334.4 L519.5 332.6 L520.8 327.9 L522.0 323.1 L523.1 319.1 L524.5 310.3 L525.8 301.9 L526.3 297.9 L527.0 291.1 L528.2 279.7 L529.5 266.9 L530.8 258.8 L532.0 250.1 L533.2 249.6 L534.5 252.5 L535.8 254.9 L537.0 261.4 L538.2 269.4 L539.5 276.5 L540.2 280.5 L540.8 284.0 L542.0 291.5 L543.2 298.2 L544.5 304.3 L545.8 297.6 L547.0 291.0 L548.2 283.8 L548.8 280.9 L549.5 280.0 L550.8 278.2 L552.0 277.2 L553.0 275.5 L554.5 274.3 L555.8 272.5 L557.0 271.7 L558.2 270.1 L559.5 266.9 L560.8 263.3 L562.0 261.3 L563.2 257.1 L563.7 255.9 L564.5 252.5 L565.8 247.1 L566.9 242.6 L568.2 236.7 L568.6 235.3 L569.5 238.6 L570.8 243.6 L571.2 243.7 L572.0 248.2 L573.2 255.6 L574.5 261.8 L575.5 267.0 L577.0 266.5 L578.2 265.1 L579.5 264.7 L580.8 268.1 L582.0 273.1 L583.2 277.6 L584.0 280.3 L584.5 282.3 L585.8 286.2 L587.0 289.8 L588.2 293.2 L589.5 293.1 L590.8 292.0 L592.0 291.0 L592.5 290.3 L593.2 291.6 L594.3 292.2 L595.8 287.4 L597.0 283.4 L598.2 279.8 L599.5 276.0 L600.8 272.0 L602.0 266.7 L602.8 263.8 L603.2 261.4 L604.5 257.7 L605.8 251.1 L607.0 246.5 L608.2 248.7 L609.5 251.9 L610.3 253.0 L610.8 253.4 L612.0 255.9 L613.2 257.8 L614.5 260.0 L615.8 262.2 L617.0 265.9 L617.8 268.1 L618.2 268.5 L619.5 271.1 L620.8 273.6 L621.5 274.6 L622.0 266.0 L623.2 246.3 L623.6 240.8 L624.2 234.2 L625.8 255.9 L626.8 269.7 L628.2 280.8 L629.5 289.8 L630.8 297.8 L632.0 306.2 L632.7 310.1 L633.2 315.1 L634.5 320.2 L635.8 326.3 L637.0 329.3 L638.2 330.5 L639.5 332.3 L640.2 331.5 L640.8 332.2 L642.0 334.5 L643.2 334.7 L644.5 330.5 L645.5 324.3 L647.0 323.9 L647.6 317.6 L648.2 316.9 L649.5 320.7 L650.8 321.6 L651.9 324.8 L653.2 330.0 L654.0 331.1 L654.5 328.7 L655.8 321.6 L657.0 319.5 L658.2 315.2 L659.5 316.6 L660.8 308.5 L662.0 306.3 L662.6 310.7 L663.2 304.9 L664.3 296.9 L665.8 300.3 L667.0 301.7 L667.9 302.9 L668.2 303.2 L669.5 296.9 L670.5 291.4 L672.0 283.6 L673.2 265.0 L673.6 263.7 L674.5 263.9 L675.0 258.6 L675.8 252.8 L676.7 249.6 L678.2 264.9 L679.5 267.2 L680.5 271.1"/>
</g>

<!-- Panel B -->
<path d="M33.6 431.9 H680.9 V780.8 H33.6 Z" fill="none" stroke="#2a2a2a" stroke-width="1.6" stroke-linejoin="round"/>
<g stroke="#222" stroke-width="1.3">
<line x1="33.6" y1="780.8" x2="33.6" y2="790.3"/>
<line x1="120" y1="780.8" x2="120" y2="790.3"/>
<line x1="206.3" y1="780.8" x2="206.3" y2="790.3"/>
<line x1="292.5" y1="780.8" x2="292.5" y2="790.3"/>
<line x1="378.8" y1="780.8" x2="378.8" y2="790.3"/>
<line x1="465" y1="780.8" x2="465" y2="790.3"/>
<line x1="551.2" y1="780.8" x2="551.2" y2="790.3"/>
<line x1="637.6" y1="780.8" x2="637.6" y2="790.3"/>
</g>
<g font-family="Liberation Serif" font-size="15.5" fill="#1a1a1a" stroke="#1a1a1a" stroke-width="0.15" text-anchor="middle">
<text x="33.8" y="809.8" textLength="29" lengthAdjust="spacingAndGlyphs">4000</text>
<text x="120" y="809.8" textLength="29" lengthAdjust="spacingAndGlyphs">3800</text>
<text x="206.3" y="809.8" textLength="29" lengthAdjust="spacingAndGlyphs">3600</text>
<text x="292.5" y="809.8" textLength="29" lengthAdjust="spacingAndGlyphs">3400</text>
<text x="378.8" y="809.8" textLength="29" lengthAdjust="spacingAndGlyphs">3200</text>
<text x="465" y="809.8" textLength="29" lengthAdjust="spacingAndGlyphs">3000</text>
<text x="551.2" y="809.8" textLength="29" lengthAdjust="spacingAndGlyphs">2800</text>
<text x="637.6" y="809.8" textLength="29" lengthAdjust="spacingAndGlyphs">2600</text>
</g>
<g font-family="Liberation Serif" fill="#1a1a1a" stroke="#1a1a1a" stroke-width="0.15">
<text x="296.6" y="836.9" font-size="15.3" textLength="107.5" lengthAdjust="spacingAndGlyphs">Wavenumber (cm</text>
<text x="404.9" y="827.4" font-size="9.8">-</text><text x="409.2" y="827.4" font-size="9.8">1</text>
<text x="413.9" y="836.9" font-size="15.3">)</text>
</g>
<text transform="translate(14.4,641.7) rotate(-90)" font-family="Liberation Serif" font-size="17" fill="#1a1a1a" stroke="#1a1a1a" stroke-width="0.2" textLength="80.2" lengthAdjust="spacingAndGlyphs">Absorbance</text>
<text x="42" y="466.5" font-family="Liberation Sans" font-weight="bold" font-size="31.5" fill="#000">b</text>
<!-- legend -->
<rect x="111.4" y="488.5" width="104.9" height="90.5" fill="#fff" stroke="#333" stroke-width="1.3"/>
<g stroke-width="1.5">
<line x1="133.8" y1="509" x2="161.3" y2="509" stroke="#111"/>
<line x1="133.8" y1="526.1" x2="161.3" y2="526.1" stroke="#8a8a8a" stroke-width="1.2"/>
<line x1="133.8" y1="543.6" x2="161.3" y2="543.6" stroke="#111" stroke-dasharray="1.9 1.9"/>
<line x1="133.8" y1="561" x2="161.3" y2="561" stroke="#111" stroke-dasharray="4.7 2.9"/>
</g>
<g font-family="Liberation Sans" font-size="12.8" fill="#1a1a1a" stroke="#1a1a1a" stroke-width="0.25">
<text x="172.4" y="514.1" textLength="15.6" lengthAdjust="spacingAndGlyphs">KU</text>
<text x="171.7" y="531.5" textLength="15.4" lengthAdjust="spacingAndGlyphs">SU</text>
<text x="172.4" y="548.1" textLength="22" lengthAdjust="spacingAndGlyphs">KSU</text>
<text x="172.4" y="565.6" textLength="16" lengthAdjust="spacingAndGlyphs">BU</text>
</g>
<g fill="none" stroke-linejoin="round">
<path d="M34.0 761.8 L35.3 753.4 L36.6 759.1 L37.9 770.4 L39.2 766.6 L40.5 765.0 L41.8 773.2 L43.1 776.0 L44.4 771.8 L45.7 770.3 L47.0 763.8 L48.3 764.9 L49.6 761.6 L50.9 756.3 L52.2 761.2 L53.5 755.4 L54.8 750.4 L56.1 764.1 L57.4 769.4 L58.7 757.7 L60.0 758.7 L61.3 766.7 L62.6 767.4 L63.9 763.5 L65.2 756.6 L66.5 758.2 L67.8 765.5 L69.1 768.6 L70.4 772.2 L71.7 769.2 L73.0 755.9 L74.3 746.8 L75.6 748.7 L76.9 755.3 L78.2 756.2 L79.5 759.9 L80.8 763.7 L82.1 759.4 L83.4 761.1 L84.7 760.6 L86.0 750.9 L87.3 758.6 L88.6 769.5 L89.9 764.8 L91.2 754.8 L92.5 740.1 L93.8 736.1 L95.0 738.5 L96.4 748.7 L97.7 757.1 L99.0 759.8 L100.3 765.3 L101.6 761.9 L102.9 754.9 L104.2 745.5 L105.0 742.9 L105.5 745.3 L106.8 747.1 L108.1 751.5 L109.4 746.1 L110.7 739.9 L112.0 741.8 L113.0 749.2 L114.6 747.7 L115.9 743.5 L117.2 740.9 L118.5 738.7 L119.8 739.7 L121.1 741.4 L122.4 742.4 L123.7 748.6 L125.0 758.5 L126.0 753.4 L127.6 756.6 L128.9 761.1 L130.2 756.2 L131.5 751.3 L132.8 745.1 L134.1 754.7 L135.4 757.6 L136.7 755.4 L138.0 757.5 L139.0 753.2 L139.3 760.4 L140.6 765.0 L141.9 751.8 L143.2 750.9 L144.5 762.8 L145.8 770.8 L147.0 759.8 L148.4 750.0 L149.7 745.9 L151.0 752.1 L152.3 751.6 L153.6 745.0 L154.9 753.5 L156.2 759.7 L157.5 758.7 L158.8 763.2 L160.1 759.3 L161.4 750.1 L162.7 753.4 L164.0 758.6 L165.3 758.9 L166.6 766.8 L167.9 765.7 L168.3 760.1 L169.2 758.2 L170.5 753.9 L171.8 751.6 L173.1 745.7 L173.6 753.0 L174.4 754.2 L175.7 756.1 L177.0 755.9 L178.3 748.5 L178.8 756.6 L179.6 746.3 L180.9 731.4 L182.2 739.0 L183.5 743.3 L184.8 741.8 L186.1 740.0 L187.4 733.9 L188.7 739.2 L189.4 746.6 L190.0 738.4 L191.3 734.8 L192.6 743.2 L193.9 741.0 L195.2 727.8 L195.6 725.1 L196.5 726.6 L197.8 727.3 L199.1 729.8 L199.9 723.9 L200.4 718.8 L201.7 727.4 L203.0 734.0 L204.2 736.6 L205.6 729.2 L206.9 721.4 L208.2 731.0 L208.5 731.2 L209.5 724.6 L210.8 722.7 L212.1 713.5 L212.7 716.6 L213.4 719.0 L214.7 711.1 L216.0 710.0 L217.0 712.3 L217.3 706.3 L218.6 698.6 L219.9 696.0 L221.2 687.8 L222.5 695.8 L223.8 708.8 L225.1 709.6 L225.6 697.8 L226.4 692.3 L227.7 696.9 L229.0 689.0 L229.8 686.9 L230.3 683.3 L231.6 672.4 L232.9 669.5 L233.4 669.3 L234.2 668.1 L235.5 673.5 L236.8 672.5 L238.1 666.9 L239.4 668.3 L240.7 677.8 L241.2 676.7 L242.0 667.9 L243.3 673.8 L244.6 663.6 L245.5 651.6 L245.9 654.6 L247.2 653.4 L248.5 659.2 L249.8 662.5 L251.1 659.1 L252.4 659.8 L253.7 654.7 L255.0 654.8 L256.3 652.3 L257.6 651.2 L258.9 646.4 L259.2 640.0 L260.2 646.5 L261.5 635.6 L262.8 630.4 L263.1 639.2 L264.1 639.0 L265.4 642.2 L266.7 652.7 L267.1 651.2 L268.0 646.9 L269.3 649.6 L270.6 641.4 L271.0 638.3 L271.9 641.9 L273.2 640.0 L274.5 632.2 L275.8 634.9 L276.3 637.1 L277.1 636.9 L278.4 643.4 L278.9 648.7 L279.7 651.8 L281.0 645.9 L282.3 635.6 L282.9 635.1 L283.6 638.7 L284.9 635.7 L285.5 635.3 L286.2 635.4 L287.5 637.1 L288.8 642.9 L289.4 640.5 L290.1 633.6 L291.4 636.7 L292.7 638.6 L293.4 637.6 L294.0 632.5 L295.3 624.6 L296.6 624.2 L297.3 627.7 L297.9 631.3 L299.2 633.7 L300.5 630.6 L301.8 631.8 L302.6 636.6 L303.1 639.1 L304.4 644.6 L305.7 639.7 L307.0 636.6 L307.8 638.2 L308.3 640.0 L309.6 639.8 L310.9 643.6 L312.2 644.4 L313.1 635.3 L313.5 638.2 L314.8 645.3 L316.1 648.2 L317.4 651.6 L318.3 649.9 L318.7 648.7 L320.0 650.0 L321.3 648.7 L322.6 645.4 L323.6 645.8 L325.2 650.0 L326.5 645.5 L327.8 644.7 L328.8 649.2 L329.1 650.8 L330.4 653.2 L331.7 655.5 L332.8 658.9 L334.3 664.1 L335.6 664.5 L336.7 660.0 L338.2 662.6 L339.5 658.5 L340.0 655.3 L340.8 667.3 L342.1 674.4 L343.4 671.6 L344.7 675.2 L346.0 676.0 L347.3 673.3 L348.6 674.6 L349.9 671.2 L351.2 677.1 L352.5 684.2 L353.8 682.4 L355.0 683.6 L356.4 683.0 L357.7 677.7 L359.0 681.5 L360.3 697.7 L361.6 701.7 L362.9 694.5 L364.2 689.3 L365.5 691.5 L366.8 697.1 L368.1 697.8 L369.4 700.5 L370.7 698.9 L372.0 700.8 L372.6 705.1 L373.3 700.6 L374.6 700.7 L375.9 705.4 L377.2 710.6 L378.5 711.3 L379.8 712.3 L381.1 721.8 L382.4 716.0 L383.7 702.8 L385.0 710.2 L386.3 710.7 L387.6 712.4 L388.9 716.6 L390.0 718.0 L391.5 729.1 L392.8 733.4 L394.1 726.3 L395.4 722.6 L396.7 730.3 L398.0 738.5 L399.3 733.4 L400.0 724.9 L400.6 732.9 L401.9 736.8 L403.2 731.8 L404.5 738.8 L405.8 738.8 L407.1 735.2 L407.9 745.5 L408.4 746.0 L409.7 746.1 L411.0 744.9 L412.3 745.8 L413.6 752.3 L414.9 756.0 L416.2 754.4 L417.5 748.6 L418.8 749.9 L419.7 755.2 L420.1 753.2 L421.4 749.8 L422.7 759.4 L424.0 763.1 L425.3 759.6 L426.3 755.7 L426.6 756.4 L427.9 755.1 L429.2 748.1 L430.5 749.7 L431.8 760.4 L433.1 765.0 L434.4 758.0 L435.7 757.1 L437.0 762.7 L438.3 775.5 L439.4 769.3 L440.9 762.4 L442.2 769.1 L443.4 762.7 L444.8 756.1 L446.1 757.1 L447.4 754.9 L448.6 751.6 L450.0 748.3 L451.3 744.9 L452.6 754.0 L453.9 755.5 L455.2 749.5 L456.5 750.9 L457.8 754.5 L459.1 756.1 L460.4 749.7 L461.7 745.4 L463.0 747.3 L464.3 748.5 L465.6 747.9 L466.9 746.6 L468.2 746.4 L469.5 749.1 L469.9 740.9 L470.8 741.0 L472.0 738.1 L473.4 731.0 L474.7 724.7 L476.0 717.7 L477.3 710.7 L478.6 704.4 L479.9 697.6 L481.2 690.9 L481.5 689.9 L482.5 677.9 L483.7 663.4 L485.1 650.3 L485.9 642.4 L486.4 636.4 L487.7 621.5 L488.7 610.4 L489.0 600.2 L489.9 568.6 L490.3 560.6 L491.6 535.4 L492.1 525.4 L492.9 509.3 L494.2 482.9 L495.3 456.9 L496.8 449.7 L497.4 447.5 L498.1 452.2 L499.4 460.2 L500.6 503.8 L502.0 532.7 L502.7 546.6 L503.3 555.3 L504.6 574.8 L505.9 602.6 L506.2 609.4 L507.2 619.7 L508.5 633.4 L509.4 642.4 L509.8 644.9 L511.1 653.9 L512.4 661.9 L513.7 668.1 L515.0 674.8 L515.8 678.4 L516.3 679.7 L517.6 682.6 L518.5 684.1 L518.9 682.6 L520.2 677.8 L521.1 674.1 L521.5 670.1 L522.8 656.6 L523.2 652.2 L524.1 642.4 L525.4 626.8 L526.2 578.4 L526.7 575.6 L527.9 567.6 L529.3 577.9 L530.6 607.2 L531.9 635.5 L532.2 642.4 L533.2 661.3 L533.9 674.3 L534.5 683.0 L535.8 702.9 L537.1 719.7 L538.2 733.3 L539.7 740.1 L541.0 748.8 L541.4 748.4 L542.3 751.3 L543.6 753.9 L544.6 755.5 L546.2 756.5 L547.5 756.7 L548.8 759.1 L550.1 762.0 L551.4 761.2 L552.7 761.3 L553.1 762.6 L554.0 759.5 L555.3 757.8 L556.6 758.6 L557.9 763.7 L559.2 765.6 L560.5 767.0 L561.8 767.0 L563.1 766.5 L564.4 766.8 L565.7 763.3 L567.0 764.1 L568.0 764.5 L569.6 761.2 L570.9 761.2 L572.2 762.9 L573.5 764.5 L574.8 766.5 L576.1 767.1 L577.4 769.1 L578.7 765.1 L580.0 761.6 L581.3 768.7 L582.6 768.6 L583.9 762.6 L585.2 761.9 L586.5 762.4 L587.8 762.9 L589.1 767.2 L590.4 765.8 L591.7 762.0 L593.0 766.5 L594.3 768.1 L595.6 766.4 L596.9 765.4 L598.2 766.4 L599.5 765.4 L600.0 765.5 L600.8 767.3 L602.1 765.5 L603.4 764.6 L604.7 766.4 L606.0 767.8 L607.3 765.8 L608.6 765.5 L609.9 764.5 L611.2 766.3 L612.5 770.2 L613.8 770.0 L615.1 768.4 L616.4 767.4 L617.7 764.9 L619.0 763.6 L620.3 765.4 L621.6 765.8 L622.9 767.2 L624.2 766.8 L625.5 764.7 L626.8 767.3 L628.1 768.0 L629.4 766.2 L630.7 763.5 L632.0 761.5 L633.3 764.3 L634.6 766.9 L635.9 764.5 L637.2 764.1 L638.5 767.5 L639.8 766.7 L641.1 766.4 L641.6 769.4 L642.4 768.0 L643.7 763.1 L645.0 763.6 L646.3 764.8 L647.6 765.2 L648.9 767.6 L650.2 769.0 L651.5 768.3 L652.8 769.0 L654.1 769.0 L655.4 768.3 L656.7 768.2 L658.0 767.0 L659.3 765.5 L660.6 765.0 L661.9 764.8 L663.2 764.3 L664.5 765.2 L665.8 767.4 L667.1 764.0 L668.4 763.1 L669.7 764.2 L671.0 762.7 L672.3 766.6 L673.6 767.5 L674.9 762.5 L676.2 761.8 L677.5 764.3 L678.8 762.4 L679.7 759.9" stroke="#6a6a6a" stroke-width="1.3"/>
<path d="M34.0 769.8 L35.3 761.6 L36.6 768.1 L37.9 761.8 L39.2 769.4 L40.5 760.5 L41.8 763.3 L43.1 763.6 L44.4 761.6 L45.7 768.4 L47.0 760.2 L48.3 761.0 L49.6 763.5 L50.9 767.9 L52.2 762.5 L53.5 772.0 L54.8 765.1 L56.1 764.2 L57.4 766.6 L58.7 764.6 L60.0 761.4 L61.3 762.7 L62.6 764.7 L63.9 769.1 L65.2 764.2 L66.5 764.5 L67.8 754.9 L69.1 761.2 L70.4 761.6 L71.7 767.2 L73.0 766.3 L74.3 760.8 L75.6 761.8 L76.9 759.4 L78.2 756.7 L79.5 758.8 L80.8 757.1 L82.1 759.0 L83.4 759.8 L84.7 756.4 L86.0 759.9 L87.3 744.0 L88.6 753.8 L89.9 753.3 L91.2 745.2 L92.5 752.4 L93.8 751.5 L95.0 753.9 L96.4 748.1 L97.7 750.6 L99.0 751.0 L100.3 743.5 L101.6 753.1 L102.9 744.7 L104.2 750.8 L105.0 752.5 L105.5 750.3 L106.8 740.8 L108.1 751.1 L109.4 745.5 L110.7 746.3 L112.0 738.9 L113.0 738.7 L114.6 746.9 L115.9 738.9 L117.2 737.9 L118.5 738.0 L119.8 742.4 L121.1 735.7 L122.4 742.4 L123.7 742.8 L125.0 756.8 L126.3 754.4 L127.0 752.4 L127.6 753.1 L128.9 752.1 L130.2 751.9 L131.5 753.4 L132.8 760.5 L134.0 754.0 L135.4 752.4 L136.7 752.8 L138.0 760.7 L139.0 750.6 L139.3 745.5 L140.6 750.0 L141.9 750.5 L143.2 746.6 L144.5 749.2 L145.0 753.2 L145.8 751.0 L147.1 758.8 L148.4 755.0 L149.7 752.9 L151.0 754.9 L152.3 752.8 L153.6 754.1 L154.9 759.4 L156.2 756.9 L157.5 751.0 L158.8 753.4 L160.1 759.2 L161.4 752.4 L162.7 754.2 L164.0 758.1 L165.3 752.6 L165.7 752.1 L166.6 749.3 L167.9 750.8 L168.3 743.7 L169.2 741.9 L170.5 746.4 L171.8 751.7 L173.1 747.4 L173.6 751.4 L174.4 751.5 L175.7 745.6 L177.0 751.6 L178.3 753.0 L178.8 754.2 L179.6 756.0 L180.9 752.7 L182.2 746.2 L183.5 743.7 L184.8 734.4 L186.1 740.3 L187.4 736.4 L188.7 740.2 L189.4 738.5 L190.0 745.0 L191.3 738.2 L192.6 739.9 L193.9 731.8 L195.2 734.5 L195.6 735.7 L196.5 732.3 L197.8 730.8 L199.1 728.9 L199.9 727.1 L200.4 726.7 L201.7 726.4 L203.0 733.3 L204.2 731.3 L205.6 729.5 L206.9 733.6 L208.2 729.4 L208.5 729.2 L209.5 725.5 L210.8 729.9 L212.1 718.8 L212.7 719.5 L213.4 707.1 L214.7 715.2 L216.0 716.1 L217.0 713.6 L217.3 717.8 L218.6 709.8 L219.9 707.0 L221.2 707.0 L222.5 708.4 L223.8 704.9 L225.1 702.8 L225.6 703.5 L226.4 705.5 L227.7 694.6 L229.0 690.7 L229.8 688.4 L230.3 693.1 L231.6 688.0 L232.9 680.8 L233.4 680.0 L234.2 681.5 L235.5 678.8 L236.8 676.2 L238.1 682.9 L239.4 679.1 L240.7 678.2 L241.2 680.0 L242.0 677.6 L243.3 674.3 L244.6 675.6 L245.9 673.4 L247.2 664.3 L248.5 668.4 L249.8 664.1 L251.1 661.8 L252.4 661.1 L253.7 664.4 L255.0 664.7 L256.3 661.1 L257.6 667.2 L258.9 663.1 L260.2 659.4 L261.5 666.0 L262.8 657.8 L263.1 664.3 L264.1 658.4 L265.4 656.5 L266.7 655.2 L268.0 653.4 L269.3 652.7 L270.6 655.3 L271.9 653.1 L273.2 647.7 L274.5 651.9 L275.8 646.1 L276.3 651.4 L277.1 648.8 L278.4 649.7 L279.7 653.8 L281.0 644.9 L282.3 657.2 L283.6 659.8 L284.9 658.9 L286.2 653.1 L287.5 649.8 L288.8 655.0 L289.4 651.5 L290.1 650.8 L291.4 648.8 L292.7 654.4 L294.0 652.2 L295.3 645.1 L296.6 648.3 L297.9 644.2 L299.2 650.0 L299.9 644.4 L300.5 647.6 L301.8 651.2 L303.1 650.8 L304.4 649.6 L305.7 653.6 L306.5 652.2 L307.0 660.5 L308.3 660.4 L309.6 654.0 L310.9 657.0 L312.2 670.0 L313.5 664.7 L314.8 663.2 L315.7 667.6 L316.1 666.2 L317.4 668.1 L318.7 665.5 L320.0 671.9 L321.3 668.7 L322.6 665.3 L323.9 669.2 L325.2 669.2 L326.5 671.9 L327.8 672.3 L328.8 672.3 L329.1 669.7 L330.4 673.2 L331.7 671.4 L333.0 678.1 L334.3 670.7 L335.6 671.5 L336.9 673.4 L338.2 672.5 L339.5 677.0 L340.0 676.9 L340.8 677.5 L342.1 682.8 L343.4 676.0 L344.7 682.9 L346.0 683.5 L347.3 693.2 L348.6 682.7 L349.9 684.4 L351.2 691.8 L352.5 687.6 L353.8 695.7 L355.0 698.3 L356.4 693.4 L357.7 697.0 L359.0 697.5 L360.3 702.3 L361.6 705.0 L362.9 702.2 L364.2 703.3 L365.5 705.3 L366.8 700.0 L368.1 703.5 L369.4 707.2 L370.7 704.3 L372.0 711.3 L372.6 704.4 L373.3 707.3 L374.6 709.6 L375.9 715.2 L377.2 709.7 L378.5 712.7 L379.8 716.3 L381.1 717.0 L382.4 719.9 L383.7 717.4 L385.0 718.0 L386.3 714.5 L387.6 720.3 L388.9 724.1 L390.0 722.5 L391.5 726.7 L392.8 731.2 L394.1 721.6 L395.4 733.5 L396.7 734.1 L398.0 733.1 L399.3 736.1 L400.0 737.2 L400.6 731.6 L401.9 741.9 L403.2 734.1 L404.5 741.7 L405.8 741.9 L407.1 743.0 L407.9 746.3 L408.4 745.0 L409.7 746.7 L411.0 748.2 L412.3 747.0 L413.6 751.3 L414.9 748.7 L416.2 754.4 L417.5 750.7 L418.8 755.9 L419.7 754.5 L420.1 760.4 L421.4 754.1 L422.7 760.9 L424.0 757.0 L425.3 754.2 L426.3 763.2 L426.6 762.2 L427.9 764.9 L429.2 759.6 L430.5 764.1 L431.8 766.6 L433.1 763.6 L434.4 771.9 L435.7 764.0 L437.0 768.2 L438.3 763.7 L439.4 764.7 L440.9 764.7 L442.2 764.4 L443.4 764.3 L444.8 761.7 L446.1 752.3 L447.4 754.8 L448.6 750.3 L450.0 746.0 L451.3 747.3 L452.6 749.5 L453.9 747.8 L455.2 743.7 L456.5 746.6 L457.8 747.9 L459.1 752.7 L460.4 749.6 L461.7 750.4 L463.0 748.8 L464.3 742.2 L465.6 745.3 L466.9 747.2 L468.2 749.3 L469.5 740.1 L469.9 750.2 L470.8 741.8 L472.0 738.0 L473.4 730.7 L474.7 724.1 L476.0 717.3 L477.3 710.7 L478.6 704.2 L479.9 697.2 L481.2 691.6 L481.5 689.8 L482.5 678.0 L483.7 663.6 L485.1 649.9 L485.9 642.2 L486.4 636.2 L487.7 621.3 L488.7 610.2 L489.0 599.5 L489.9 568.0 L490.3 560.3 L491.6 535.1 L492.1 525.6 L492.9 509.3 L494.2 483.0 L495.3 456.9 L496.8 450.3 L497.4 447.6 L498.1 451.8 L499.4 460.7 L500.6 504.2 L502.0 532.4 L502.7 546.5 L503.3 556.0 L504.6 574.3 L505.9 603.1 L506.2 610.1 L507.2 620.1 L508.5 632.9 L509.4 641.8 L509.8 645.0 L511.1 653.7 L512.4 661.9 L513.7 668.8 L515.0 674.6 L515.8 678.5 L516.3 679.4 L517.6 682.4 L518.5 684.4 L518.9 682.7 L520.2 677.7 L521.1 673.9 L521.5 669.7 L522.8 656.4 L523.2 652.5 L524.1 642.3 L525.4 627.3 L526.2 579.1 L526.7 575.7 L527.9 568.1 L529.3 577.9 L530.6 607.9 L531.9 635.6 L532.2 641.8 L533.2 660.6 L533.9 673.8 L534.5 683.1 L535.8 703.1 L537.1 719.7 L538.2 734.0 L539.7 739.8 L541.0 743.2 L541.4 745.4 L542.3 748.0 L543.6 751.9 L544.6 756.8 L546.2 759.0 L547.5 758.2 L548.8 759.6 L550.1 759.2 L551.4 761.7 L552.7 760.4 L553.1 760.9 L554.0 761.8 L555.3 763.0 L556.6 762.9 L557.9 760.0 L559.2 763.9 L560.5 763.1 L561.8 764.2 L563.1 763.5 L564.4 762.0 L565.7 764.4 L567.0 765.5 L568.0 762.4 L569.6 766.2 L570.9 765.3 L572.2 764.9 L573.5 763.6 L574.8 765.2 L576.1 765.6 L577.4 763.7 L578.7 764.0 L580.0 763.7 L581.3 765.2 L582.6 765.3 L583.9 766.1 L585.2 765.4 L586.5 764.5 L587.8 765.1 L589.1 764.0 L590.4 766.4 L591.7 763.9 L593.0 764.1 L594.3 765.3 L595.6 762.9 L596.9 765.9 L598.2 767.1 L599.5 766.3 L600.0 766.4 L600.8 766.2 L602.1 765.6 L603.4 765.6 L604.7 764.2 L606.0 766.1 L607.3 766.9 L608.6 768.3 L609.9 765.4 L611.2 766.4 L612.5 766.6 L613.8 765.5 L615.1 765.5 L616.4 765.6 L617.7 765.8 L619.0 768.3 L620.3 764.1 L621.6 764.8 L622.9 764.5 L624.2 766.8 L625.5 767.2 L626.8 765.2 L628.1 767.7 L629.4 765.2 L630.7 768.6 L632.0 766.8 L633.3 767.9 L634.6 765.0 L635.9 765.5 L637.2 767.0 L638.5 766.2 L639.8 764.9 L641.1 768.0 L641.6 767.9 L642.4 766.5 L643.7 768.1 L645.0 768.1 L646.3 768.2 L647.6 765.4 L648.9 767.5 L650.2 766.7 L651.5 765.5 L652.8 766.5 L654.1 765.6 L655.4 767.6 L656.7 765.9 L658.0 766.5 L659.3 767.1 L660.6 768.3 L661.9 766.7 L663.2 764.1 L664.5 767.5 L665.8 765.8 L667.1 766.9 L668.4 765.5 L669.7 764.3 L671.0 763.4 L672.3 765.3 L673.6 766.0 L674.9 764.2 L676.2 764.1 L677.5 763.8 L678.8 764.4 L679.7 764.7" stroke="#111" stroke-width="1.4" stroke-dasharray="4.7 2.9"/>
<path d="M34.0 774.1 L35.3 779.3 L36.6 775.1 L37.9 768.2 L39.2 769.8 L40.5 774.7 L41.8 771.6 L43.1 775.7 L44.4 765.0 L45.7 778.7 L47.0 777.9 L48.3 766.5 L49.6 770.4 L50.9 769.3 L52.2 770.0 L53.5 774.6 L54.8 769.5 L56.1 768.1 L57.4 773.7 L58.7 775.8 L60.0 769.7 L61.3 771.9 L62.6 765.5 L63.9 773.6 L65.2 777.7 L66.5 771.5 L67.8 768.9 L69.1 761.6 L70.4 767.3 L71.7 766.2 L73.0 770.3 L74.3 772.3 L75.6 771.8 L76.9 767.1 L78.2 767.9 L79.5 763.4 L80.8 766.2 L82.1 765.9 L83.4 764.7 L84.7 755.0 L86.0 764.1 L87.3 763.5 L88.6 757.9 L89.9 760.7 L91.2 760.8 L92.5 749.1 L93.8 758.4 L95.0 752.2 L96.4 749.6 L97.7 753.9 L99.0 750.3 L100.3 751.1 L101.6 748.9 L102.9 749.8 L104.2 747.7 L105.0 749.7 L105.5 747.3 L106.8 744.9 L108.1 751.7 L109.4 746.4 L110.7 746.2 L112.0 749.2 L113.0 744.2 L114.6 741.5 L115.9 737.2 L117.2 743.5 L118.5 742.0 L119.8 743.6 L121.1 741.4 L122.4 742.8 L123.7 739.0 L125.0 750.6 L126.3 745.5 L127.6 751.4 L128.0 755.6 L128.9 760.2 L130.2 754.2 L131.5 756.5 L132.8 749.2 L134.0 756.0 L135.4 757.4 L136.7 754.5 L138.0 742.5 L139.0 749.1 L139.3 745.3 L140.6 731.7 L141.4 725.0 L141.9 734.9 L143.0 752.7 L144.5 748.0 L145.8 741.6 L147.0 744.1 L148.0 741.5 L148.4 738.9 L149.7 742.1 L151.0 749.8 L152.3 745.4 L153.6 755.6 L154.9 749.7 L156.2 754.6 L157.5 756.6 L158.8 755.2 L160.1 752.5 L161.4 753.0 L162.7 756.4 L164.0 748.0 L165.3 748.9 L165.7 752.9 L166.6 752.2 L167.9 745.8 L168.3 742.9 L169.2 747.3 L170.5 743.4 L171.8 752.0 L173.1 749.5 L173.6 751.4 L174.4 742.8 L175.7 746.8 L177.0 749.7 L178.3 748.6 L178.8 752.0 L179.6 753.2 L180.9 739.8 L182.2 735.9 L183.5 735.0 L184.8 724.8 L186.1 730.5 L187.4 734.1 L188.7 737.2 L189.4 740.7 L190.0 741.8 L191.3 737.3 L192.6 737.4 L193.9 733.9 L195.2 733.2 L195.6 737.7 L196.5 733.7 L197.8 726.3 L199.1 728.2 L199.9 733.6 L200.4 733.9 L201.7 725.5 L203.0 731.4 L204.2 730.9 L205.6 723.7 L206.9 735.1 L208.2 738.9 L208.5 730.7 L209.5 727.9 L210.8 726.5 L212.1 716.9 L212.7 714.5 L213.4 716.4 L214.7 710.5 L216.0 715.9 L217.0 709.8 L217.3 713.2 L218.6 712.0 L219.9 710.9 L221.2 699.8 L222.5 702.9 L223.8 703.2 L225.1 697.2 L225.6 702.6 L226.4 701.1 L227.7 699.7 L229.0 698.5 L229.8 690.3 L230.3 688.4 L231.6 684.7 L232.9 681.3 L233.4 681.4 L234.2 684.1 L235.5 674.9 L236.8 677.2 L238.1 669.8 L239.4 672.3 L240.7 678.3 L241.2 676.1 L242.0 677.5 L243.3 678.2 L244.6 669.3 L245.9 667.6 L247.2 667.4 L248.5 663.6 L249.8 662.7 L251.1 660.0 L252.4 664.0 L253.7 661.8 L255.0 660.2 L256.3 653.4 L257.6 657.3 L258.9 659.0 L260.2 660.3 L261.5 655.9 L262.8 659.0 L263.1 659.6 L264.1 654.6 L265.4 657.4 L266.7 653.8 L268.0 650.1 L269.3 652.1 L270.6 659.9 L271.9 651.3 L273.2 649.2 L274.5 650.5 L275.8 649.1 L276.3 647.2 L277.1 641.5 L278.4 639.8 L279.7 642.7 L281.0 652.3 L282.3 649.8 L283.6 643.6 L284.9 650.5 L286.2 644.5 L287.5 649.3 L288.8 651.6 L289.4 648.7 L290.1 651.0 L291.4 650.6 L292.7 642.6 L294.0 646.5 L295.3 647.5 L296.6 644.0 L297.9 640.9 L299.2 648.2 L299.9 644.5 L300.5 642.9 L301.8 643.8 L303.1 648.0 L304.4 653.3 L305.7 650.4 L306.5 654.3 L307.0 654.3 L308.3 654.1 L309.6 656.1 L310.9 657.6 L312.2 656.0 L313.5 656.0 L314.8 663.3 L315.7 666.3 L316.1 664.0 L317.4 660.7 L318.7 663.8 L320.0 662.9 L321.3 661.1 L322.6 662.8 L323.9 664.7 L325.2 668.2 L326.5 664.5 L327.8 671.5 L328.8 668.9 L329.1 672.3 L330.4 672.2 L331.7 670.4 L333.0 670.7 L334.3 671.7 L335.6 672.1 L336.9 677.6 L338.2 677.4 L339.5 674.5 L340.0 677.3 L340.8 676.5 L342.1 674.3 L343.4 678.2 L344.7 680.0 L346.0 682.2 L347.3 680.1 L348.6 685.7 L349.9 682.4 L351.2 685.1 L352.5 688.8 L353.8 688.9 L355.0 687.4 L356.4 687.4 L357.7 690.5 L359.0 691.0 L360.3 700.0 L361.6 692.1 L362.9 692.1 L364.2 703.3 L365.5 693.5 L366.8 697.5 L368.1 701.6 L369.4 701.3 L370.7 703.2 L372.0 707.6 L372.6 710.3 L373.3 705.2 L374.6 707.1 L375.9 706.7 L377.2 707.6 L378.5 707.4 L379.8 712.6 L381.1 712.1 L382.4 715.8 L383.7 715.1 L385.0 714.9 L386.3 718.4 L387.6 720.1 L388.9 720.9 L390.0 722.4 L391.5 726.3 L392.8 722.1 L394.1 729.4 L395.4 726.2 L396.7 728.5 L398.0 733.4 L399.3 733.6 L400.0 726.4 L400.6 733.3 L401.9 738.0 L403.2 733.3 L404.5 736.5 L405.8 744.0 L407.1 737.9 L407.9 747.5 L408.4 739.3 L409.7 736.5 L411.0 743.9 L412.3 745.4 L413.6 750.0 L414.9 750.3 L416.2 755.4 L417.5 752.1 L418.8 748.2 L419.7 751.8 L420.1 756.8 L421.4 751.0 L422.7 758.8 L424.0 755.0 L425.3 753.2 L426.3 759.0 L426.6 758.8 L427.9 755.5 L429.2 756.5 L430.5 756.4 L431.8 757.7 L433.1 753.7 L434.4 759.0 L435.7 757.9 L437.0 760.8 L438.3 764.1 L439.4 765.9 L440.9 762.9 L442.2 760.4 L443.4 759.3 L444.8 755.8 L446.1 754.7 L447.4 749.7 L448.6 749.5 L450.0 750.4 L451.3 745.9 L452.6 739.7 L453.9 742.5 L455.2 737.2 L456.5 732.7 L457.8 727.9 L459.1 736.6 L460.4 752.5 L461.7 751.9 L463.0 748.3 L464.3 741.6 L465.6 743.4 L466.9 747.2 L468.2 743.6 L469.5 745.7 L469.9 746.8 L470.8 741.9 L472.0 738.1 L473.4 730.8 L474.7 723.9 L476.0 717.2 L477.3 710.7 L478.6 704.1 L479.9 697.9 L481.2 691.5 L481.5 689.9 L482.5 678.2 L483.7 663.3 L485.1 649.9 L485.9 642.1 L486.4 636.1 L487.7 621.4 L488.7 610.0 L489.0 599.4 L489.9 567.6 L490.3 560.9 L491.6 535.1 L492.1 525.4 L492.9 509.1 L494.2 482.7 L495.3 457.2 L496.8 450.4 L497.4 447.5 L498.1 452.2 L499.4 460.9 L500.6 504.0 L502.0 532.8 L502.7 546.8 L503.3 555.7 L504.6 574.3 L505.9 603.2 L506.2 610.0 L507.2 619.8 L508.5 632.8 L509.4 641.8 L509.8 644.7 L511.1 652.9 L512.4 661.9 L513.7 668.7 L515.0 674.8 L515.8 677.9 L516.3 679.5 L517.6 682.6 L518.5 684.7 L518.9 682.9 L520.2 677.9 L521.1 674.0 L521.5 670.0 L522.8 656.9 L523.2 652.4 L524.1 642.1 L525.4 627.6 L526.2 579.0 L526.7 575.9 L527.9 568.3 L529.3 578.2 L530.6 607.6 L531.9 635.6 L532.2 641.9 L533.2 660.8 L533.9 674.0 L534.5 683.1 L535.8 702.9 L537.1 720.1 L538.2 733.8 L539.7 739.8 L541.0 747.0 L541.4 746.7 L542.3 749.7 L543.6 751.7 L544.6 754.1 L546.2 757.3 L547.5 759.1 L548.8 756.5 L550.1 760.8 L551.4 761.5 L552.7 761.4 L553.1 762.2 L554.0 760.8 L555.3 762.7 L556.6 761.3 L557.9 762.8 L559.2 763.1 L560.5 763.9 L561.8 762.1 L563.1 764.4 L564.4 764.6 L565.7 765.8 L567.0 763.7 L568.0 765.1 L569.6 763.7 L570.9 765.2 L572.2 763.8 L573.5 763.3 L574.8 763.9 L576.1 766.8 L577.4 766.7 L578.7 764.9 L580.0 765.0 L581.3 765.4 L582.6 763.0 L583.9 767.6 L585.2 763.8 L586.5 763.5 L587.8 764.9 L589.1 763.9 L590.4 765.6 L591.7 766.1 L593.0 764.9 L594.3 765.5 L595.6 764.6 L596.9 763.2 L598.2 763.8 L599.5 768.0 L600.0 765.4 L600.8 763.2 L602.1 764.1 L603.4 764.5 L604.7 766.6 L606.0 765.9 L607.3 767.6 L608.6 768.3 L609.9 766.6 L611.2 766.6 L612.5 767.6 L613.8 765.5 L615.1 765.7 L616.4 764.0 L617.7 767.2 L619.0 765.1 L620.3 766.6 L621.6 769.4 L622.9 764.6 L624.2 768.2 L625.5 765.1 L626.8 765.0 L628.1 767.4 L629.4 764.5 L630.7 767.0 L632.0 766.7 L633.3 768.0 L634.6 764.4 L635.9 765.1 L637.2 768.1 L638.5 764.5 L639.8 767.1 L641.1 768.4 L641.6 765.0 L642.4 765.5 L643.7 767.9 L645.0 765.1 L646.3 767.7 L647.6 768.0 L648.9 766.5 L650.2 766.2 L651.5 766.2 L652.8 765.3 L654.1 767.1 L655.4 766.9 L656.7 765.9 L658.0 766.2 L659.3 763.9 L660.6 764.4 L661.9 762.8 L663.2 764.7 L664.5 766.5 L665.8 765.6 L667.1 764.5 L668.4 764.6 L669.7 764.5 L671.0 766.3 L672.3 763.4 L673.6 766.4 L674.9 765.4 L676.2 762.7 L677.5 765.3 L678.8 765.4 L679.7 763.9" stroke="#111" stroke-width="1.5" stroke-dasharray="1.9 1.9"/>
<path d="M34.0 753.1 L35.3 757.9 L36.6 759.4 L37.9 758.5 L39.2 753.3 L40.5 760.1 L41.8 758.7 L43.1 758.6 L44.4 758.6 L45.0 759.8 L45.7 763.7 L47.0 754.1 L48.3 752.7 L49.6 762.3 L50.9 751.8 L52.2 757.6 L53.5 754.2 L54.8 756.6 L56.1 758.4 L57.4 750.3 L58.7 753.5 L60.0 752.2 L61.3 750.9 L62.6 754.1 L63.9 761.4 L65.2 753.9 L66.5 761.5 L67.8 754.1 L69.1 756.1 L70.4 755.1 L71.7 754.7 L73.0 750.6 L74.3 755.3 L75.0 755.3 L75.6 754.4 L76.9 755.0 L78.2 749.3 L79.5 750.3 L80.8 748.3 L82.1 743.9 L83.4 750.2 L84.7 746.0 L86.0 747.0 L87.3 754.0 L88.6 746.3 L89.9 744.9 L91.2 747.3 L92.5 747.0 L93.8 748.0 L95.0 739.2 L96.4 747.9 L97.7 742.2 L99.0 739.5 L100.3 741.0 L101.6 748.7 L102.9 748.3 L104.2 750.9 L105.0 743.9 L105.5 747.4 L106.8 740.7 L108.1 736.4 L109.4 734.7 L110.7 745.3 L112.0 742.0 L113.0 734.4 L114.6 740.3 L115.9 725.0 L117.2 736.4 L118.0 737.8 L118.5 734.7 L119.8 735.9 L121.1 743.9 L122.4 743.9 L123.7 745.5 L125.0 751.2 L126.3 749.6 L127.6 752.9 L128.9 749.6 L130.2 756.7 L131.0 751.8 L131.5 745.9 L132.8 747.6 L134.1 757.1 L135.4 752.7 L136.0 753.6 L136.7 745.3 L138.0 749.9 L139.0 746.7 L139.3 752.2 L140.6 743.2 L141.9 750.2 L143.2 753.0 L144.5 745.8 L145.0 750.4 L145.8 746.8 L147.1 751.5 L148.4 753.4 L149.7 757.6 L151.0 754.5 L152.3 752.5 L153.6 757.3 L154.9 755.7 L156.2 759.8 L157.5 754.5 L158.8 761.5 L160.1 756.8 L161.4 756.0 L162.7 757.7 L164.0 751.5 L165.3 750.6 L165.7 754.9 L166.6 748.3 L167.9 743.7 L168.3 740.6 L169.2 741.0 L170.5 744.9 L171.8 748.7 L173.1 737.3 L173.6 747.1 L174.4 746.1 L175.7 750.1 L177.0 749.1 L178.3 748.5 L178.8 751.3 L179.6 746.6 L180.9 740.4 L182.2 742.1 L183.5 739.5 L184.8 734.2 L186.1 737.5 L187.4 736.8 L188.7 744.1 L189.4 741.5 L190.0 741.3 L191.3 741.4 L192.6 735.7 L193.9 743.3 L195.2 737.3 L195.6 736.7 L196.5 732.0 L197.8 727.3 L199.1 728.8 L199.9 723.8 L200.4 727.3 L201.7 728.8 L203.0 733.3 L204.2 732.3 L205.6 732.4 L206.9 737.0 L208.2 733.4 L208.5 732.4 L209.5 728.7 L210.8 729.6 L212.1 720.4 L212.7 716.3 L213.4 711.8 L214.7 713.9 L216.0 717.4 L217.0 717.8 L217.3 720.2 L218.6 709.4 L219.9 709.4 L221.2 708.2 L222.5 697.4 L223.8 711.5 L225.1 701.5 L225.6 701.6 L226.4 705.5 L227.7 700.2 L229.0 698.9 L229.8 695.0 L230.3 692.7 L231.6 688.1 L232.9 682.9 L233.4 685.8 L234.2 677.8 L235.5 682.3 L236.8 684.5 L238.1 679.1 L239.4 685.7 L240.7 686.7 L241.2 684.2 L242.0 682.8 L243.3 683.6 L244.6 682.6 L245.9 678.7 L247.2 683.9 L248.3 681.3 L249.8 678.3 L251.1 678.1 L252.4 676.6 L253.7 667.7 L255.0 677.4 L255.3 666.0 L256.3 669.8 L257.6 668.2 L258.9 673.9 L260.2 674.1 L260.5 673.7 L261.5 663.4 L262.8 671.8 L264.1 668.3 L265.4 659.9 L265.8 669.2 L266.7 664.5 L268.0 662.6 L269.3 665.8 L270.6 662.9 L271.9 665.3 L273.2 663.1 L273.7 661.5 L274.5 661.3 L275.8 667.6 L277.1 666.4 L278.4 664.8 L279.7 666.1 L280.2 665.5 L281.0 672.5 L282.3 664.9 L283.6 661.7 L284.2 664.3 L284.9 659.1 L286.2 659.6 L287.5 663.0 L288.8 666.7 L289.4 666.4 L290.1 665.2 L291.4 665.2 L292.7 662.0 L294.0 658.7 L294.7 663.1 L295.3 659.6 L296.6 658.3 L297.9 659.3 L299.2 657.8 L299.9 652.8 L300.5 654.8 L301.8 654.9 L303.1 657.4 L304.4 663.6 L305.2 662.5 L305.7 661.9 L307.0 662.5 L308.3 671.4 L309.1 667.7 L309.6 669.7 L310.9 669.2 L312.2 667.2 L313.5 671.4 L314.8 671.0 L315.7 674.6 L316.1 672.8 L317.4 668.6 L318.7 672.6 L320.0 673.6 L321.3 674.6 L322.3 672.1 L322.6 671.1 L323.9 676.5 L325.2 678.9 L326.5 675.6 L327.8 685.3 L328.8 682.7 L329.1 679.6 L330.4 687.4 L331.7 678.0 L333.0 680.1 L334.1 680.4 L335.6 687.1 L336.9 682.0 L338.2 686.5 L339.5 686.7 L340.0 684.3 L340.8 686.1 L342.1 683.9 L343.4 691.1 L344.7 687.4 L346.0 689.2 L347.3 695.1 L348.6 693.3 L349.9 701.4 L351.2 701.5 L352.5 694.4 L353.8 701.0 L355.0 701.5 L356.4 708.8 L357.7 702.0 L359.0 702.6 L360.3 704.6 L361.6 705.4 L362.9 704.3 L364.2 708.3 L365.5 706.9 L366.8 706.8 L368.1 714.3 L369.4 711.3 L370.7 708.7 L372.0 708.6 L372.6 711.9 L373.3 710.1 L374.6 711.4 L375.9 719.7 L377.2 717.6 L378.5 717.9 L379.8 721.5 L381.1 720.9 L382.4 724.1 L383.7 730.5 L385.0 726.8 L386.3 726.6 L387.6 726.6 L388.9 733.1 L390.0 732.1 L391.5 735.0 L392.8 730.6 L394.1 735.2 L395.4 737.8 L396.7 740.2 L398.0 742.0 L399.3 740.3 L400.6 745.8 L401.9 743.4 L403.2 738.8 L404.5 742.2 L405.8 746.9 L407.1 748.8 L407.9 745.2 L408.4 745.8 L409.7 751.0 L411.0 751.5 L412.3 752.5 L413.1 753.9 L413.6 752.8 L414.9 752.2 L416.2 759.7 L417.5 760.9 L418.8 764.6 L419.7 762.3 L420.1 761.6 L421.4 762.2 L422.7 762.9 L424.0 757.3 L425.3 762.4 L426.3 761.1 L426.6 764.1 L427.9 763.6 L429.2 761.4 L430.5 760.7 L431.8 755.3 L432.9 760.0 L434.4 761.7 L435.7 763.7 L437.0 769.3 L438.3 770.8 L439.4 768.3 L440.9 772.1 L442.2 768.8 L443.4 766.3 L444.8 761.3 L446.1 758.8 L447.4 760.7 L448.6 751.4 L450.0 759.1 L451.3 755.7 L452.6 752.2 L453.9 755.9 L455.2 753.3 L456.5 750.5 L457.8 752.6 L459.1 752.3 L460.4 752.7 L461.7 759.1 L463.0 753.3 L464.3 751.4 L465.6 746.8 L466.9 746.1 L468.2 742.9 L469.5 741.9 L469.9 739.5 L470.8 741.8 L472.0 737.9 L473.4 730.9 L474.7 723.9 L476.0 717.0 L477.3 710.6 L478.6 704.4 L479.9 697.6 L481.2 691.5 L481.5 689.5 L482.5 677.7 L483.7 663.6 L485.1 649.4 L485.9 642.5 L486.4 636.2 L487.7 621.3 L488.7 610.3 L489.0 599.4 L489.9 568.4 L490.3 560.4 L491.6 535.3 L492.1 525.7 L492.9 509.4 L494.2 482.7 L495.3 456.6 L496.8 450.7 L497.4 447.5 L498.1 452.5 L499.4 460.6 L500.6 504.0 L502.0 532.6 L502.7 546.8 L503.3 556.0 L504.6 574.2 L505.9 602.7 L506.2 610.1 L507.2 619.8 L508.5 633.0 L509.4 642.1 L509.8 644.9 L511.1 653.3 L512.4 662.0 L513.7 668.5 L515.0 674.7 L515.8 678.0 L516.3 679.9 L517.6 682.5 L518.5 684.6 L518.9 682.7 L520.2 677.5 L521.1 673.8 L521.5 669.9 L522.8 656.9 L523.2 652.9 L524.1 642.2 L525.4 627.0 L526.2 579.0 L526.7 575.3 L527.9 568.0 L529.3 578.4 L530.6 607.9 L531.9 635.6 L532.2 641.7 L533.2 660.7 L533.9 674.3 L534.5 683.6 L535.8 702.9 L537.1 719.6 L538.2 733.8 L539.7 740.0 L541.0 745.9 L541.4 747.0 L542.3 751.5 L543.6 752.5 L544.6 758.0 L546.2 755.7 L547.5 759.6 L548.8 760.6 L550.1 760.9 L551.4 759.9 L552.7 761.2 L553.1 760.3 L554.0 761.9 L555.3 762.5 L556.6 763.4 L557.9 761.5 L559.2 762.6 L560.5 760.9 L561.8 762.3 L563.1 762.6 L564.4 765.5 L565.7 763.6 L567.0 765.1 L568.0 764.0 L569.6 764.5 L570.9 764.3 L572.2 763.1 L573.5 766.6 L574.8 762.0 L576.1 766.4 L577.4 761.6 L578.7 764.2 L580.0 765.9 L581.3 766.0 L582.6 762.4 L583.9 765.2 L585.2 765.2 L586.5 765.4 L587.8 764.6 L589.1 764.1 L590.4 765.4 L591.7 765.9 L593.0 766.5 L594.3 765.2 L595.6 764.2 L596.9 766.3 L598.2 763.6 L599.5 764.5 L600.0 764.6 L600.8 765.5 L602.1 765.8 L603.4 768.2 L604.7 766.5 L606.0 766.9 L607.3 765.2 L608.6 764.4 L609.9 765.4 L611.2 765.2 L612.5 768.7 L613.8 767.9 L615.1 767.2 L616.4 766.0 L617.7 764.5 L619.0 765.8 L620.3 765.4 L621.6 765.3 L622.9 766.9 L624.2 764.8 L625.5 769.1 L626.8 766.2 L628.1 766.7 L629.4 767.0 L630.7 765.8 L632.0 768.4 L633.3 767.4 L634.6 766.9 L635.9 767.6 L637.2 766.3 L638.5 768.3 L639.8 768.7 L641.1 768.4 L641.6 767.3 L642.4 765.2 L643.7 770.2 L645.0 767.5 L646.3 768.1 L647.6 765.5 L648.9 767.4 L650.2 767.3 L651.5 766.9 L652.8 768.0 L654.1 764.1 L655.4 767.8 L656.7 765.7 L658.0 765.4 L659.3 766.0 L660.6 766.5 L661.9 766.1 L663.2 765.2 L664.5 766.4 L665.8 769.3 L667.1 766.4 L668.4 764.9 L669.7 765.0 L671.0 766.4 L672.3 764.1 L673.6 766.7 L674.9 763.2 L676.2 765.5 L677.5 767.2 L678.8 763.1 L679.7 764.0" stroke="#111" stroke-width="1.75"/>
</g>
</svg>
</body></html>
